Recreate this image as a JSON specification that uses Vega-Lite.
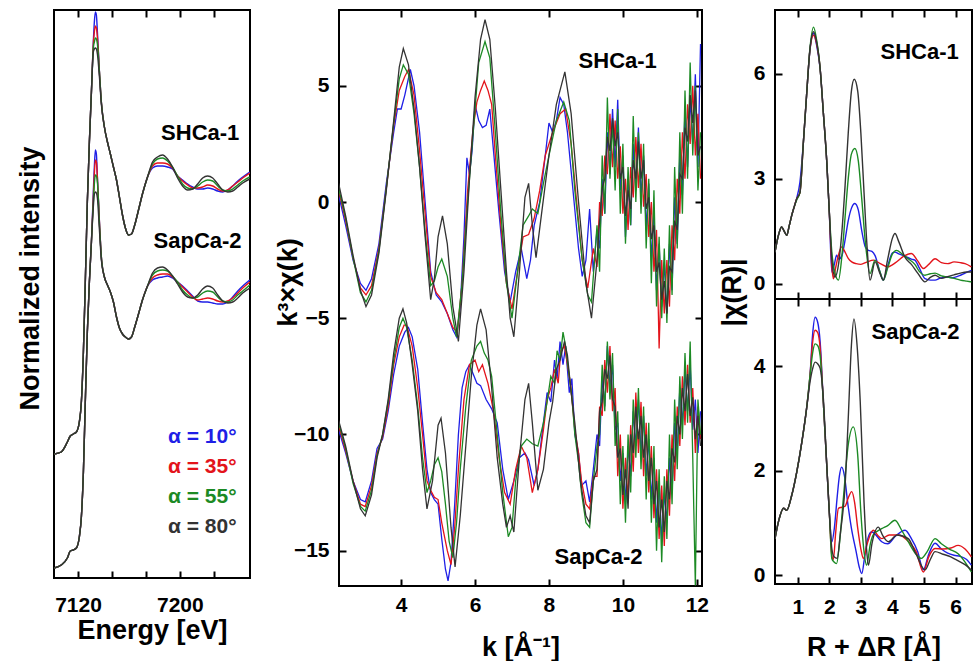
{
"$schema": "https://vega.github.io/schema/vega-lite/v6.json",
"background": "white",
"padding": {"left": 15, "top": 8, "right": 0, "bottom": 0},
"bounds": "flush",
"spacing": 36,
"config": {
  "font": "Liberation Sans",
  "view": {"stroke": "black", "strokeWidth": 2},
  "axis": {"domain": false, "grid": false, "ticks": true, "tickSize": -7, "tickWidth": 2, "tickColor": "black", "labelFont": "Liberation Sans", "labelFontWeight": "bold", "labelFontSize": 21, "labelColor": "black", "labelFlush": false, "labelOverlap": false, "titleFont": "Liberation Sans", "titleFontWeight": "bold", "titleFontSize": 27, "titleColor": "black"},
  "axisBottom": {"labelPadding": 19},
  "axisLeft": {"labelPadding": 17}
},
"datasets": {
"xanes": [
{"s":"SH","a":10,"x":7101.3,"y":1.24},{"s":"SH","a":10,"x":7106.8,"y":1.26},{"s":"SH","a":10,"x":7111.6,"y":1.36},{"s":"SH","a":10,"x":7113.9,"y":1.42},{"s":"SH","a":10,"x":7116.3,"y":1.44},{"s":"SH","a":10,"x":7118.7,"y":1.46},{"s":"SH","a":10,"x":7121,"y":1.56},{"s":"SH","a":10,"x":7122.6,"y":1.76},{"s":"SH","a":10,"x":7124.2,"y":2.26},{"s":"SH","a":10,"x":7125.7,"y":2.96},{"s":"SH","a":10,"x":7127.3,"y":3.76},{"s":"SH","a":10,"x":7128.9,"y":4.36},{"s":"SH","a":10,"x":7130.5,"y":4.86},{"s":"SH","a":10,"x":7132,"y":5.36},{"s":"SH","a":10,"x":7132.8,"y":5.56},{"s":"SH","a":10,"x":7133.6,"y":5.66},{"s":"SH","a":10,"x":7134.4,"y":5.63},{"s":"SH","a":10,"x":7135.2,"y":5.46},{"s":"SH","a":10,"x":7136.8,"y":5.06},{"s":"SH","a":10,"x":7138.3,"y":4.76},{"s":"SH","a":10,"x":7140.7,"y":4.51},{"s":"SH","a":10,"x":7143.1,"y":4.36},{"s":"SH","a":10,"x":7145.4,"y":4.24},{"s":"SH","a":10,"x":7147.8,"y":4.11},{"s":"SH","a":10,"x":7150.2,"y":3.98},{"s":"SH","a":10,"x":7152.5,"y":3.81},{"s":"SH","a":10,"x":7154.9,"y":3.63},{"s":"SH","a":10,"x":7157.2,"y":3.5},{"s":"SH","a":10,"x":7159.6,"y":3.43},{"s":"SH","a":10,"x":7162,"y":3.44},{"s":"SH","a":10,"x":7164.3,"y":3.52},{"s":"SH","a":10,"x":7167.5,"y":3.68},{"s":"SH","a":10,"x":7170.6,"y":3.84},{"s":"SH","a":10,"x":7174.6,"y":4.01},{"s":"SH","a":10,"x":7178.5,"y":4.1},{"s":"SH","a":10,"x":7182.4,"y":4.12},{"s":"SH","a":10,"x":7186.4,"y":4.12},{"s":"SH","a":10,"x":7190.3,"y":4.11},{"s":"SH","a":10,"x":7194.2,"y":4.09},{"s":"SH","a":10,"x":7198.2,"y":4.02},{"s":"SH","a":10,"x":7202.1,"y":3.98},{"s":"SH","a":10,"x":7206.1,"y":3.94},{"s":"SH","a":10,"x":7210,"y":3.91},{"s":"SH","a":10,"x":7214,"y":3.89},{"s":"SH","a":10,"x":7217.9,"y":3.89},{"s":"SH","a":10,"x":7221.8,"y":3.9},{"s":"SH","a":10,"x":7225.8,"y":3.89},{"s":"SH","a":10,"x":7229.7,"y":3.87},{"s":"SH","a":10,"x":7233.7,"y":3.86},{"s":"SH","a":10,"x":7237.6,"y":3.88},{"s":"SH","a":10,"x":7241.5,"y":3.92},{"s":"SH","a":10,"x":7245.5,"y":3.97},{"s":"SH","a":10,"x":7249.4,"y":4.01},{"s":"SH","a":10,"x":7254.9,"y":4.06},
{"s":"Sap","a":10,"x":7101.3,"y":0.1},{"s":"Sap","a":10,"x":7106.8,"y":0.13},{"s":"Sap","a":10,"x":7111.6,"y":0.2},{"s":"Sap","a":10,"x":7113.9,"y":0.27},{"s":"Sap","a":10,"x":7116.3,"y":0.28},{"s":"Sap","a":10,"x":7118.7,"y":0.3},{"s":"Sap","a":10,"x":7121,"y":0.41},{"s":"Sap","a":10,"x":7122.6,"y":0.61},{"s":"Sap","a":10,"x":7124.2,"y":1.06},{"s":"Sap","a":10,"x":7125.7,"y":1.76},{"s":"Sap","a":10,"x":7127.3,"y":2.46},{"s":"Sap","a":10,"x":7128.9,"y":2.96},{"s":"Sap","a":10,"x":7130.5,"y":3.36},{"s":"Sap","a":10,"x":7132,"y":3.86},{"s":"Sap","a":10,"x":7132.8,"y":4.11},{"s":"Sap","a":10,"x":7133.6,"y":4.28},{"s":"Sap","a":10,"x":7134.4,"y":4.24},{"s":"Sap","a":10,"x":7135.2,"y":4.01},{"s":"Sap","a":10,"x":7136.8,"y":3.56},{"s":"Sap","a":10,"x":7138.3,"y":3.21},{"s":"Sap","a":10,"x":7140.7,"y":3.01},{"s":"Sap","a":10,"x":7143.1,"y":2.93},{"s":"Sap","a":10,"x":7145.4,"y":2.86},{"s":"Sap","a":10,"x":7147.8,"y":2.76},{"s":"Sap","a":10,"x":7150.2,"y":2.61},{"s":"Sap","a":10,"x":7152.5,"y":2.5},{"s":"Sap","a":10,"x":7154.9,"y":2.44},{"s":"Sap","a":10,"x":7157.2,"y":2.41},{"s":"Sap","a":10,"x":7159.6,"y":2.39},{"s":"Sap","a":10,"x":7162,"y":2.41},{"s":"Sap","a":10,"x":7164.3,"y":2.5},{"s":"Sap","a":10,"x":7167.5,"y":2.64},{"s":"Sap","a":10,"x":7170.6,"y":2.78},{"s":"Sap","a":10,"x":7174.6,"y":2.92},{"s":"Sap","a":10,"x":7178.5,"y":2.98},{"s":"Sap","a":10,"x":7182.4,"y":3.0},{"s":"Sap","a":10,"x":7186.4,"y":3.01},{"s":"Sap","a":10,"x":7190.3,"y":3.02},{"s":"Sap","a":10,"x":7194.2,"y":3.0},{"s":"Sap","a":10,"x":7198.2,"y":2.96},{"s":"Sap","a":10,"x":7202.1,"y":2.92},{"s":"Sap","a":10,"x":7206.1,"y":2.87},{"s":"Sap","a":10,"x":7210,"y":2.82},{"s":"Sap","a":10,"x":7214,"y":2.77},{"s":"Sap","a":10,"x":7217.9,"y":2.76},{"s":"Sap","a":10,"x":7221.8,"y":2.76},{"s":"Sap","a":10,"x":7225.8,"y":2.75},{"s":"Sap","a":10,"x":7229.7,"y":2.74},{"s":"Sap","a":10,"x":7233.7,"y":2.74},{"s":"Sap","a":10,"x":7237.6,"y":2.76},{"s":"Sap","a":10,"x":7241.5,"y":2.81},{"s":"Sap","a":10,"x":7245.5,"y":2.87},{"s":"Sap","a":10,"x":7249.4,"y":2.92},{"s":"Sap","a":10,"x":7254.9,"y":2.98},
{"s":"SH","a":35,"x":7101.3,"y":1.24},{"s":"SH","a":35,"x":7106.8,"y":1.26},{"s":"SH","a":35,"x":7111.6,"y":1.36},{"s":"SH","a":35,"x":7113.9,"y":1.42},{"s":"SH","a":35,"x":7116.3,"y":1.44},{"s":"SH","a":35,"x":7118.7,"y":1.46},{"s":"SH","a":35,"x":7121,"y":1.56},{"s":"SH","a":35,"x":7122.6,"y":1.76},{"s":"SH","a":35,"x":7124.2,"y":2.26},{"s":"SH","a":35,"x":7125.7,"y":2.96},{"s":"SH","a":35,"x":7127.3,"y":3.76},{"s":"SH","a":35,"x":7128.9,"y":4.36},{"s":"SH","a":35,"x":7130.5,"y":4.86},{"s":"SH","a":35,"x":7132,"y":5.34},{"s":"SH","a":35,"x":7132.8,"y":5.46},{"s":"SH","a":35,"x":7133.6,"y":5.52},{"s":"SH","a":35,"x":7134.4,"y":5.5},{"s":"SH","a":35,"x":7135.2,"y":5.41},{"s":"SH","a":35,"x":7136.8,"y":5.06},{"s":"SH","a":35,"x":7138.3,"y":4.76},{"s":"SH","a":35,"x":7140.7,"y":4.51},{"s":"SH","a":35,"x":7143.1,"y":4.36},{"s":"SH","a":35,"x":7145.4,"y":4.24},{"s":"SH","a":35,"x":7147.8,"y":4.11},{"s":"SH","a":35,"x":7150.2,"y":3.98},{"s":"SH","a":35,"x":7152.5,"y":3.81},{"s":"SH","a":35,"x":7154.9,"y":3.63},{"s":"SH","a":35,"x":7157.2,"y":3.5},{"s":"SH","a":35,"x":7159.6,"y":3.43},{"s":"SH","a":35,"x":7162,"y":3.44},{"s":"SH","a":35,"x":7164.3,"y":3.52},{"s":"SH","a":35,"x":7167.5,"y":3.68},{"s":"SH","a":35,"x":7170.6,"y":3.84},{"s":"SH","a":35,"x":7174.6,"y":4.01},{"s":"SH","a":35,"x":7178.5,"y":4.12},{"s":"SH","a":35,"x":7182.4,"y":4.15},{"s":"SH","a":35,"x":7186.4,"y":4.15},{"s":"SH","a":35,"x":7190.3,"y":4.14},{"s":"SH","a":35,"x":7194.2,"y":4.1},{"s":"SH","a":35,"x":7198.2,"y":4.02},{"s":"SH","a":35,"x":7202.1,"y":3.97},{"s":"SH","a":35,"x":7206.1,"y":3.93},{"s":"SH","a":35,"x":7210,"y":3.9},{"s":"SH","a":35,"x":7214,"y":3.9},{"s":"SH","a":35,"x":7217.9,"y":3.91},{"s":"SH","a":35,"x":7221.8,"y":3.93},{"s":"SH","a":35,"x":7225.8,"y":3.92},{"s":"SH","a":35,"x":7229.7,"y":3.89},{"s":"SH","a":35,"x":7233.7,"y":3.87},{"s":"SH","a":35,"x":7237.6,"y":3.88},{"s":"SH","a":35,"x":7241.5,"y":3.92},{"s":"SH","a":35,"x":7245.5,"y":3.96},{"s":"SH","a":35,"x":7249.4,"y":4.0},{"s":"SH","a":35,"x":7254.9,"y":4.05},
{"s":"Sap","a":35,"x":7101.3,"y":0.1},{"s":"Sap","a":35,"x":7106.8,"y":0.13},{"s":"Sap","a":35,"x":7111.6,"y":0.2},{"s":"Sap","a":35,"x":7113.9,"y":0.27},{"s":"Sap","a":35,"x":7116.3,"y":0.28},{"s":"Sap","a":35,"x":7118.7,"y":0.3},{"s":"Sap","a":35,"x":7121,"y":0.41},{"s":"Sap","a":35,"x":7122.6,"y":0.61},{"s":"Sap","a":35,"x":7124.2,"y":1.06},{"s":"Sap","a":35,"x":7125.7,"y":1.76},{"s":"Sap","a":35,"x":7127.3,"y":2.46},{"s":"Sap","a":35,"x":7128.9,"y":2.96},{"s":"Sap","a":35,"x":7130.5,"y":3.36},{"s":"Sap","a":35,"x":7132,"y":3.81},{"s":"Sap","a":35,"x":7132.8,"y":4.04},{"s":"Sap","a":35,"x":7133.6,"y":4.18},{"s":"Sap","a":35,"x":7134.4,"y":4.16},{"s":"Sap","a":35,"x":7135.2,"y":4.0},{"s":"Sap","a":35,"x":7136.8,"y":3.56},{"s":"Sap","a":35,"x":7138.3,"y":3.21},{"s":"Sap","a":35,"x":7140.7,"y":3.01},{"s":"Sap","a":35,"x":7143.1,"y":2.93},{"s":"Sap","a":35,"x":7145.4,"y":2.86},{"s":"Sap","a":35,"x":7147.8,"y":2.76},{"s":"Sap","a":35,"x":7150.2,"y":2.61},{"s":"Sap","a":35,"x":7152.5,"y":2.5},{"s":"Sap","a":35,"x":7154.9,"y":2.44},{"s":"Sap","a":35,"x":7157.2,"y":2.41},{"s":"Sap","a":35,"x":7159.6,"y":2.39},{"s":"Sap","a":35,"x":7162,"y":2.41},{"s":"Sap","a":35,"x":7164.3,"y":2.5},{"s":"Sap","a":35,"x":7167.5,"y":2.64},{"s":"Sap","a":35,"x":7170.6,"y":2.78},{"s":"Sap","a":35,"x":7174.6,"y":2.92},{"s":"Sap","a":35,"x":7178.5,"y":3.0},{"s":"Sap","a":35,"x":7182.4,"y":3.03},{"s":"Sap","a":35,"x":7186.4,"y":3.04},{"s":"Sap","a":35,"x":7190.3,"y":3.04},{"s":"Sap","a":35,"x":7194.2,"y":3.01},{"s":"Sap","a":35,"x":7198.2,"y":2.96},{"s":"Sap","a":35,"x":7202.1,"y":2.91},{"s":"Sap","a":35,"x":7206.1,"y":2.86},{"s":"Sap","a":35,"x":7210,"y":2.81},{"s":"Sap","a":35,"x":7214,"y":2.78},{"s":"Sap","a":35,"x":7217.9,"y":2.79},{"s":"Sap","a":35,"x":7221.8,"y":2.8},{"s":"Sap","a":35,"x":7225.8,"y":2.79},{"s":"Sap","a":35,"x":7229.7,"y":2.77},{"s":"Sap","a":35,"x":7233.7,"y":2.76},{"s":"Sap","a":35,"x":7237.6,"y":2.77},{"s":"Sap","a":35,"x":7241.5,"y":2.8},{"s":"Sap","a":35,"x":7245.5,"y":2.85},{"s":"Sap","a":35,"x":7249.4,"y":2.9},{"s":"Sap","a":35,"x":7254.9,"y":2.96},
{"s":"SH","a":55,"x":7101.3,"y":1.24},{"s":"SH","a":55,"x":7106.8,"y":1.26},{"s":"SH","a":55,"x":7111.6,"y":1.36},{"s":"SH","a":55,"x":7113.9,"y":1.42},{"s":"SH","a":55,"x":7116.3,"y":1.44},{"s":"SH","a":55,"x":7118.7,"y":1.46},{"s":"SH","a":55,"x":7121,"y":1.56},{"s":"SH","a":55,"x":7122.6,"y":1.76},{"s":"SH","a":55,"x":7124.2,"y":2.26},{"s":"SH","a":55,"x":7125.7,"y":2.96},{"s":"SH","a":55,"x":7127.3,"y":3.76},{"s":"SH","a":55,"x":7128.9,"y":4.36},{"s":"SH","a":55,"x":7130.5,"y":4.86},{"s":"SH","a":55,"x":7132,"y":5.3},{"s":"SH","a":55,"x":7132.8,"y":5.36},{"s":"SH","a":55,"x":7133.6,"y":5.4},{"s":"SH","a":55,"x":7134.4,"y":5.39},{"s":"SH","a":55,"x":7135.2,"y":5.34},{"s":"SH","a":55,"x":7136.8,"y":5.06},{"s":"SH","a":55,"x":7138.3,"y":4.76},{"s":"SH","a":55,"x":7140.7,"y":4.51},{"s":"SH","a":55,"x":7143.1,"y":4.36},{"s":"SH","a":55,"x":7145.4,"y":4.24},{"s":"SH","a":55,"x":7147.8,"y":4.11},{"s":"SH","a":55,"x":7150.2,"y":3.98},{"s":"SH","a":55,"x":7152.5,"y":3.81},{"s":"SH","a":55,"x":7154.9,"y":3.63},{"s":"SH","a":55,"x":7157.2,"y":3.5},{"s":"SH","a":55,"x":7159.6,"y":3.43},{"s":"SH","a":55,"x":7162,"y":3.44},{"s":"SH","a":55,"x":7164.3,"y":3.52},{"s":"SH","a":55,"x":7167.5,"y":3.68},{"s":"SH","a":55,"x":7170.6,"y":3.84},{"s":"SH","a":55,"x":7174.6,"y":4.01},{"s":"SH","a":55,"x":7178.5,"y":4.14},{"s":"SH","a":55,"x":7182.4,"y":4.19},{"s":"SH","a":55,"x":7186.4,"y":4.2},{"s":"SH","a":55,"x":7190.3,"y":4.17},{"s":"SH","a":55,"x":7194.2,"y":4.11},{"s":"SH","a":55,"x":7198.2,"y":4.02},{"s":"SH","a":55,"x":7202.1,"y":3.94},{"s":"SH","a":55,"x":7206.1,"y":3.9},{"s":"SH","a":55,"x":7210,"y":3.89},{"s":"SH","a":55,"x":7214,"y":3.92},{"s":"SH","a":55,"x":7217.9,"y":3.96},{"s":"SH","a":55,"x":7221.8,"y":3.98},{"s":"SH","a":55,"x":7225.8,"y":3.97},{"s":"SH","a":55,"x":7229.7,"y":3.92},{"s":"SH","a":55,"x":7233.7,"y":3.88},{"s":"SH","a":55,"x":7237.6,"y":3.87},{"s":"SH","a":55,"x":7241.5,"y":3.89},{"s":"SH","a":55,"x":7245.5,"y":3.93},{"s":"SH","a":55,"x":7249.4,"y":3.97},{"s":"SH","a":55,"x":7254.9,"y":4.01},
{"s":"Sap","a":55,"x":7101.3,"y":0.1},{"s":"Sap","a":55,"x":7106.8,"y":0.13},{"s":"Sap","a":55,"x":7111.6,"y":0.2},{"s":"Sap","a":55,"x":7113.9,"y":0.27},{"s":"Sap","a":55,"x":7116.3,"y":0.28},{"s":"Sap","a":55,"x":7118.7,"y":0.3},{"s":"Sap","a":55,"x":7121,"y":0.41},{"s":"Sap","a":55,"x":7122.6,"y":0.61},{"s":"Sap","a":55,"x":7124.2,"y":1.06},{"s":"Sap","a":55,"x":7125.7,"y":1.76},{"s":"Sap","a":55,"x":7127.3,"y":2.46},{"s":"Sap","a":55,"x":7128.9,"y":2.96},{"s":"Sap","a":55,"x":7130.5,"y":3.36},{"s":"Sap","a":55,"x":7132,"y":3.76},{"s":"Sap","a":55,"x":7132.8,"y":3.94},{"s":"Sap","a":55,"x":7133.6,"y":4.03},{"s":"Sap","a":55,"x":7134.4,"y":4.02},{"s":"Sap","a":55,"x":7135.2,"y":3.96},{"s":"Sap","a":55,"x":7136.8,"y":3.54},{"s":"Sap","a":55,"x":7138.3,"y":3.21},{"s":"Sap","a":55,"x":7140.7,"y":3.01},{"s":"Sap","a":55,"x":7143.1,"y":2.93},{"s":"Sap","a":55,"x":7145.4,"y":2.86},{"s":"Sap","a":55,"x":7147.8,"y":2.76},{"s":"Sap","a":55,"x":7150.2,"y":2.61},{"s":"Sap","a":55,"x":7152.5,"y":2.5},{"s":"Sap","a":55,"x":7154.9,"y":2.44},{"s":"Sap","a":55,"x":7157.2,"y":2.41},{"s":"Sap","a":55,"x":7159.6,"y":2.39},{"s":"Sap","a":55,"x":7162,"y":2.41},{"s":"Sap","a":55,"x":7164.3,"y":2.5},{"s":"Sap","a":55,"x":7167.5,"y":2.64},{"s":"Sap","a":55,"x":7170.6,"y":2.78},{"s":"Sap","a":55,"x":7174.6,"y":2.92},{"s":"Sap","a":55,"x":7178.5,"y":3.03},{"s":"Sap","a":55,"x":7182.4,"y":3.07},{"s":"Sap","a":55,"x":7186.4,"y":3.08},{"s":"Sap","a":55,"x":7190.3,"y":3.07},{"s":"Sap","a":55,"x":7194.2,"y":3.02},{"s":"Sap","a":55,"x":7198.2,"y":2.96},{"s":"Sap","a":55,"x":7202.1,"y":2.88},{"s":"Sap","a":55,"x":7206.1,"y":2.83},{"s":"Sap","a":55,"x":7210,"y":2.8},{"s":"Sap","a":55,"x":7214,"y":2.81},{"s":"Sap","a":55,"x":7217.9,"y":2.85},{"s":"Sap","a":55,"x":7221.8,"y":2.87},{"s":"Sap","a":55,"x":7225.8,"y":2.86},{"s":"Sap","a":55,"x":7229.7,"y":2.81},{"s":"Sap","a":55,"x":7233.7,"y":2.77},{"s":"Sap","a":55,"x":7237.6,"y":2.76},{"s":"Sap","a":55,"x":7241.5,"y":2.78},{"s":"Sap","a":55,"x":7245.5,"y":2.83},{"s":"Sap","a":55,"x":7249.4,"y":2.87},{"s":"Sap","a":55,"x":7254.9,"y":2.93},
{"s":"SH","a":80,"x":7101.3,"y":1.24},{"s":"SH","a":80,"x":7106.8,"y":1.26},{"s":"SH","a":80,"x":7111.6,"y":1.36},{"s":"SH","a":80,"x":7113.9,"y":1.42},{"s":"SH","a":80,"x":7116.3,"y":1.44},{"s":"SH","a":80,"x":7118.7,"y":1.46},{"s":"SH","a":80,"x":7121,"y":1.56},{"s":"SH","a":80,"x":7122.6,"y":1.76},{"s":"SH","a":80,"x":7124.2,"y":2.26},{"s":"SH","a":80,"x":7125.7,"y":2.96},{"s":"SH","a":80,"x":7127.3,"y":3.76},{"s":"SH","a":80,"x":7128.9,"y":4.36},{"s":"SH","a":80,"x":7130.5,"y":4.86},{"s":"SH","a":80,"x":7132,"y":5.26},{"s":"SH","a":80,"x":7132.8,"y":5.29},{"s":"SH","a":80,"x":7133.6,"y":5.3},{"s":"SH","a":80,"x":7134.4,"y":5.29},{"s":"SH","a":80,"x":7135.2,"y":5.24},{"s":"SH","a":80,"x":7136.8,"y":5.01},{"s":"SH","a":80,"x":7138.3,"y":4.74},{"s":"SH","a":80,"x":7140.7,"y":4.51},{"s":"SH","a":80,"x":7143.1,"y":4.36},{"s":"SH","a":80,"x":7145.4,"y":4.24},{"s":"SH","a":80,"x":7147.8,"y":4.11},{"s":"SH","a":80,"x":7150.2,"y":3.98},{"s":"SH","a":80,"x":7152.5,"y":3.81},{"s":"SH","a":80,"x":7154.9,"y":3.63},{"s":"SH","a":80,"x":7157.2,"y":3.5},{"s":"SH","a":80,"x":7159.6,"y":3.43},{"s":"SH","a":80,"x":7162,"y":3.44},{"s":"SH","a":80,"x":7164.3,"y":3.52},{"s":"SH","a":80,"x":7167.5,"y":3.68},{"s":"SH","a":80,"x":7170.6,"y":3.84},{"s":"SH","a":80,"x":7174.6,"y":4.01},{"s":"SH","a":80,"x":7178.5,"y":4.16},{"s":"SH","a":80,"x":7182.4,"y":4.21},{"s":"SH","a":80,"x":7186.4,"y":4.23},{"s":"SH","a":80,"x":7190.3,"y":4.19},{"s":"SH","a":80,"x":7194.2,"y":4.11},{"s":"SH","a":80,"x":7198.2,"y":4.0},{"s":"SH","a":80,"x":7202.1,"y":3.92},{"s":"SH","a":80,"x":7206.1,"y":3.88},{"s":"SH","a":80,"x":7210,"y":3.89},{"s":"SH","a":80,"x":7214,"y":3.94},{"s":"SH","a":80,"x":7217.9,"y":4.0},{"s":"SH","a":80,"x":7221.8,"y":4.02},{"s":"SH","a":80,"x":7225.8,"y":4.0},{"s":"SH","a":80,"x":7229.7,"y":3.94},{"s":"SH","a":80,"x":7233.7,"y":3.88},{"s":"SH","a":80,"x":7237.6,"y":3.86},{"s":"SH","a":80,"x":7241.5,"y":3.87},{"s":"SH","a":80,"x":7245.5,"y":3.91},{"s":"SH","a":80,"x":7249.4,"y":3.95},{"s":"SH","a":80,"x":7254.9,"y":3.99},
{"s":"Sap","a":80,"x":7101.3,"y":0.1},{"s":"Sap","a":80,"x":7106.8,"y":0.13},{"s":"Sap","a":80,"x":7111.6,"y":0.2},{"s":"Sap","a":80,"x":7113.9,"y":0.27},{"s":"Sap","a":80,"x":7116.3,"y":0.28},{"s":"Sap","a":80,"x":7118.7,"y":0.3},{"s":"Sap","a":80,"x":7121,"y":0.41},{"s":"Sap","a":80,"x":7122.6,"y":0.61},{"s":"Sap","a":80,"x":7124.2,"y":1.06},{"s":"Sap","a":80,"x":7125.7,"y":1.76},{"s":"Sap","a":80,"x":7127.3,"y":2.46},{"s":"Sap","a":80,"x":7128.9,"y":2.96},{"s":"Sap","a":80,"x":7130.5,"y":3.36},{"s":"Sap","a":80,"x":7132,"y":3.71},{"s":"Sap","a":80,"x":7132.8,"y":3.84},{"s":"Sap","a":80,"x":7133.6,"y":3.86},{"s":"Sap","a":80,"x":7134.4,"y":3.85},{"s":"Sap","a":80,"x":7135.2,"y":3.8},{"s":"Sap","a":80,"x":7136.8,"y":3.48},{"s":"Sap","a":80,"x":7138.3,"y":3.18},{"s":"Sap","a":80,"x":7140.7,"y":3.01},{"s":"Sap","a":80,"x":7143.1,"y":2.93},{"s":"Sap","a":80,"x":7145.4,"y":2.86},{"s":"Sap","a":80,"x":7147.8,"y":2.76},{"s":"Sap","a":80,"x":7150.2,"y":2.61},{"s":"Sap","a":80,"x":7152.5,"y":2.5},{"s":"Sap","a":80,"x":7154.9,"y":2.44},{"s":"Sap","a":80,"x":7157.2,"y":2.41},{"s":"Sap","a":80,"x":7159.6,"y":2.39},{"s":"Sap","a":80,"x":7162,"y":2.41},{"s":"Sap","a":80,"x":7164.3,"y":2.5},{"s":"Sap","a":80,"x":7167.5,"y":2.64},{"s":"Sap","a":80,"x":7170.6,"y":2.78},{"s":"Sap","a":80,"x":7174.6,"y":2.92},{"s":"Sap","a":80,"x":7178.5,"y":3.05},{"s":"Sap","a":80,"x":7182.4,"y":3.1},{"s":"Sap","a":80,"x":7186.4,"y":3.11},{"s":"Sap","a":80,"x":7190.3,"y":3.08},{"s":"Sap","a":80,"x":7194.2,"y":3.02},{"s":"Sap","a":80,"x":7198.2,"y":2.94},{"s":"Sap","a":80,"x":7202.1,"y":2.86},{"s":"Sap","a":80,"x":7206.1,"y":2.81},{"s":"Sap","a":80,"x":7210,"y":2.8},{"s":"Sap","a":80,"x":7214,"y":2.83},{"s":"Sap","a":80,"x":7217.9,"y":2.89},{"s":"Sap","a":80,"x":7221.8,"y":2.92},{"s":"Sap","a":80,"x":7225.8,"y":2.9},{"s":"Sap","a":80,"x":7229.7,"y":2.83},{"s":"Sap","a":80,"x":7233.7,"y":2.77},{"s":"Sap","a":80,"x":7237.6,"y":2.75},{"s":"Sap","a":80,"x":7241.5,"y":2.76},{"s":"Sap","a":80,"x":7245.5,"y":2.8},{"s":"Sap","a":80,"x":7249.4,"y":2.85},{"s":"Sap","a":80,"x":7254.9,"y":2.9}
],
"exafs": [
{"s":"SH","a":10,"x":2.31,"y":0.3},{"s":"SH","a":10,"x":2.5,"y":-1.0},{"s":"SH","a":10,"x":2.7,"y":-2.5},{"s":"SH","a":10,"x":2.9,"y":-3.5},{"s":"SH","a":10,"x":3.05,"y":-3.8},{"s":"SH","a":10,"x":3.2,"y":-3.3},{"s":"SH","a":10,"x":3.4,"y":-1.8},{"s":"SH","a":10,"x":3.6,"y":0.8},{"s":"SH","a":10,"x":3.8,"y":3.0},{"s":"SH","a":10,"x":3.9,"y":4.0},{"s":"SH","a":10,"x":4.0,"y":4.0},{"s":"SH","a":10,"x":4.1,"y":4.6},{"s":"SH","a":10,"x":4.25,"y":5.7},{"s":"SH","a":10,"x":4.35,"y":5.0},{"s":"SH","a":10,"x":4.5,"y":3.0},{"s":"SH","a":10,"x":4.65,"y":0.0},{"s":"SH","a":10,"x":4.8,"y":-3.0},{"s":"SH","a":10,"x":4.95,"y":-4.0},{"s":"SH","a":10,"x":5.1,"y":-4.3},{"s":"SH","a":10,"x":5.25,"y":-4.8},{"s":"SH","a":10,"x":5.4,"y":-5.5},{"s":"SH","a":10,"x":5.5,"y":-5.8},{"s":"SH","a":10,"x":5.6,"y":-4.5},{"s":"SH","a":10,"x":5.7,"y":-1.5},{"s":"SH","a":10,"x":5.78,"y":1.9},{"s":"SH","a":10,"x":5.85,"y":1.2},{"s":"SH","a":10,"x":5.92,"y":2.2},{"s":"SH","a":10,"x":6.0,"y":4.2},{"s":"SH","a":10,"x":6.1,"y":3.5},{"s":"SH","a":10,"x":6.2,"y":3.2},{"s":"SH","a":10,"x":6.3,"y":3.3},{"s":"SH","a":10,"x":6.4,"y":4.0},{"s":"SH","a":10,"x":6.5,"y":2.2},{"s":"SH","a":10,"x":6.65,"y":-0.5},{"s":"SH","a":10,"x":6.8,"y":-3.0},{"s":"SH","a":10,"x":6.95,"y":-4.3},{"s":"SH","a":10,"x":7.1,"y":-3.0},{"s":"SH","a":10,"x":7.25,"y":-2.0},{"s":"SH","a":10,"x":7.4,"y":-3.3},{"s":"SH","a":10,"x":7.5,"y":-2.5},{"s":"SH","a":10,"x":7.6,"y":-1.0},{"s":"SH","a":10,"x":7.75,"y":0.0},{"s":"SH","a":10,"x":7.9,"y":2.0},{"s":"SH","a":10,"x":8.0,"y":3.4},{"s":"SH","a":10,"x":8.1,"y":3.0},{"s":"SH","a":10,"x":8.2,"y":3.5},{"s":"SH","a":10,"x":8.3,"y":4.5},{"s":"SH","a":10,"x":8.4,"y":4.2},{"s":"SH","a":10,"x":8.5,"y":3.0},{"s":"SH","a":10,"x":8.65,"y":0.5},{"s":"SH","a":10,"x":8.8,"y":-2.0},{"s":"SH","a":10,"x":8.9,"y":-3.2},{"s":"SH","a":10,"x":9.0,"y":-2.5},{"s":"SH","a":10,"x":9.1,"y":-0.3},{"s":"SH","a":10,"x":9.2,"y":-3.0},
{"s":"SH","a":10,"x":9.3,"y":-1.2},{"s":"SH","a":10,"x":9.37,"y":-2.0},{"s":"SH","a":10,"x":9.44,"y":1.0},{"s":"SH","a":10,"x":9.51,"y":-0.5},{"s":"SH","a":10,"x":9.58,"y":3.0},{"s":"SH","a":10,"x":9.65,"y":1.2},{"s":"SH","a":10,"x":9.72,"y":4.0},{"s":"SH","a":10,"x":9.79,"y":1.5},{"s":"SH","a":10,"x":9.86,"y":4.4},{"s":"SH","a":10,"x":9.93,"y":0.5},{"s":"SH","a":10,"x":10.0,"y":2.0},{"s":"SH","a":10,"x":10.07,"y":-1.5},{"s":"SH","a":10,"x":10.14,"y":1.0},{"s":"SH","a":10,"x":10.21,"y":-1.0},{"s":"SH","a":10,"x":10.28,"y":2.5},{"s":"SH","a":10,"x":10.35,"y":0.5},{"s":"SH","a":10,"x":10.42,"y":3.2},{"s":"SH","a":10,"x":10.49,"y":0.2},{"s":"SH","a":10,"x":10.56,"y":2.0},{"s":"SH","a":10,"x":10.63,"y":-1.2},{"s":"SH","a":10,"x":10.7,"y":0.8},{"s":"SH","a":10,"x":10.77,"y":-2.5},{"s":"SH","a":10,"x":10.84,"y":-0.5},{"s":"SH","a":10,"x":10.91,"y":-3.8},{"s":"SH","a":10,"x":10.98,"y":-1.8},{"s":"SH","a":10,"x":11.05,"y":-4.5},{"s":"SH","a":10,"x":11.12,"y":-2.6},{"s":"SH","a":10,"x":11.19,"y":-4.8},{"s":"SH","a":10,"x":11.26,"y":-1.8},{"s":"SH","a":10,"x":11.33,"y":-3.8},{"s":"SH","a":10,"x":11.4,"y":0.2},{"s":"SH","a":10,"x":11.47,"y":-1.8},{"s":"SH","a":10,"x":11.54,"y":2.0},{"s":"SH","a":10,"x":11.61,"y":0.3},{"s":"SH","a":10,"x":11.68,"y":4.0},{"s":"SH","a":10,"x":11.75,"y":1.5},{"s":"SH","a":10,"x":11.82,"y":4.5},{"s":"SH","a":10,"x":11.89,"y":2.5},{"s":"SH","a":10,"x":11.96,"y":5.5},{"s":"SH","a":10,"x":12.03,"y":1.5},{"s":"SH","a":10,"x":12.1,"y":6.8},
{"s":"Sap","a":10,"x":2.31,"y":-9.8},{"s":"Sap","a":10,"x":2.5,"y":-10.8},{"s":"Sap","a":10,"x":2.7,"y":-12.0},{"s":"Sap","a":10,"x":2.9,"y":-12.8},{"s":"Sap","a":10,"x":3.03,"y":-12.9},{"s":"Sap","a":10,"x":3.2,"y":-12.0},{"s":"Sap","a":10,"x":3.35,"y":-10.6},{"s":"Sap","a":10,"x":3.5,"y":-10.2},{"s":"Sap","a":10,"x":3.65,"y":-9.0},{"s":"Sap","a":10,"x":3.8,"y":-7.4},{"s":"Sap","a":10,"x":3.95,"y":-6.2},{"s":"Sap","a":10,"x":4.1,"y":-5.6},{"s":"Sap","a":10,"x":4.2,"y":-5.4},{"s":"Sap","a":10,"x":4.3,"y":-5.8},{"s":"Sap","a":10,"x":4.45,"y":-7.2},{"s":"Sap","a":10,"x":4.58,"y":-9.5},{"s":"Sap","a":10,"x":4.7,"y":-11.5},{"s":"Sap","a":10,"x":4.8,"y":-12.5},{"s":"Sap","a":10,"x":4.9,"y":-12.8},{"s":"Sap","a":10,"x":5.0,"y":-13.0},{"s":"Sap","a":10,"x":5.1,"y":-14.5},{"s":"Sap","a":10,"x":5.2,"y":-15.8},{"s":"Sap","a":10,"x":5.27,"y":-16.3},{"s":"Sap","a":10,"x":5.35,"y":-15.5},{"s":"Sap","a":10,"x":5.45,"y":-13.0},{"s":"Sap","a":10,"x":5.55,"y":-10.0},{"s":"Sap","a":10,"x":5.65,"y":-8.0},{"s":"Sap","a":10,"x":5.75,"y":-7.3},{"s":"Sap","a":10,"x":5.85,"y":-7.0},{"s":"Sap","a":10,"x":5.95,"y":-7.4},{"s":"Sap","a":10,"x":6.05,"y":-7.8},{"s":"Sap","a":10,"x":6.15,"y":-7.9},{"s":"Sap","a":10,"x":6.3,"y":-8.5},{"s":"Sap","a":10,"x":6.45,"y":-8.9},{"s":"Sap","a":10,"x":6.6,"y":-9.5},{"s":"Sap","a":10,"x":6.75,"y":-11.5},{"s":"Sap","a":10,"x":6.9,"y":-12.8},{"s":"Sap","a":10,"x":7.05,"y":-12.0},{"s":"Sap","a":10,"x":7.2,"y":-11.0},{"s":"Sap","a":10,"x":7.35,"y":-10.8},{"s":"Sap","a":10,"x":7.45,"y":-11.1},{"s":"Sap","a":10,"x":7.6,"y":-12.2},{"s":"Sap","a":10,"x":7.7,"y":-11.5},{"s":"Sap","a":10,"x":7.85,"y":-9.5},{"s":"Sap","a":10,"x":7.95,"y":-8.2},{"s":"Sap","a":10,"x":8.05,"y":-8.6},{"s":"Sap","a":10,"x":8.15,"y":-6.8},{"s":"Sap","a":10,"x":8.22,"y":-7.6},{"s":"Sap","a":10,"x":8.3,"y":-6.0},{"s":"Sap","a":10,"x":8.38,"y":-7.0},{"s":"Sap","a":10,"x":8.45,"y":-6.2},{"s":"Sap","a":10,"x":8.55,"y":-8.2},{"s":"Sap","a":10,"x":8.62,"y":-7.6},{"s":"Sap","a":10,"x":8.7,"y":-10.0},{"s":"Sap","a":10,"x":8.8,"y":-10.8},{"s":"Sap","a":10,"x":8.88,"y":-12.2},{"s":"Sap","a":10,"x":9.0,"y":-12.0},{"s":"Sap","a":10,"x":9.1,"y":-12.9},{"s":"Sap","a":10,"x":9.2,"y":-11.5},
{"s":"Sap","a":10,"x":9.3,"y":-10.0},{"s":"Sap","a":10,"x":9.37,"y":-10.5},{"s":"Sap","a":10,"x":9.44,"y":-7.5},{"s":"Sap","a":10,"x":9.51,"y":-8.8},{"s":"Sap","a":10,"x":9.58,"y":-6.2},{"s":"Sap","a":10,"x":9.65,"y":-8.0},{"s":"Sap","a":10,"x":9.72,"y":-7.0},{"s":"Sap","a":10,"x":9.79,"y":-9.8},{"s":"Sap","a":10,"x":9.86,"y":-9.5},{"s":"Sap","a":10,"x":9.93,"y":-12.0},{"s":"Sap","a":10,"x":10.0,"y":-10.8},{"s":"Sap","a":10,"x":10.07,"y":-13.0},{"s":"Sap","a":10,"x":10.14,"y":-10.5},{"s":"Sap","a":10,"x":10.21,"y":-11.8},{"s":"Sap","a":10,"x":10.28,"y":-9.0},{"s":"Sap","a":10,"x":10.35,"y":-10.5},{"s":"Sap","a":10,"x":10.42,"y":-8.5},{"s":"Sap","a":10,"x":10.49,"y":-10.8},{"s":"Sap","a":10,"x":10.56,"y":-9.2},{"s":"Sap","a":10,"x":10.63,"y":-11.8},{"s":"Sap","a":10,"x":10.7,"y":-10.2},{"s":"Sap","a":10,"x":10.77,"y":-12.8},{"s":"Sap","a":10,"x":10.84,"y":-11.0},{"s":"Sap","a":10,"x":10.91,"y":-13.8},{"s":"Sap","a":10,"x":10.98,"y":-12.0},{"s":"Sap","a":10,"x":11.05,"y":-14.6},{"s":"Sap","a":10,"x":11.12,"y":-12.5},{"s":"Sap","a":10,"x":11.19,"y":-13.8},{"s":"Sap","a":10,"x":11.26,"y":-11.0},{"s":"Sap","a":10,"x":11.33,"y":-12.5},{"s":"Sap","a":10,"x":11.4,"y":-9.5},{"s":"Sap","a":10,"x":11.47,"y":-10.8},{"s":"Sap","a":10,"x":11.54,"y":-8.0},{"s":"Sap","a":10,"x":11.61,"y":-9.6},{"s":"Sap","a":10,"x":11.68,"y":-7.2},{"s":"Sap","a":10,"x":11.75,"y":-9.0},{"s":"Sap","a":10,"x":11.82,"y":-7.0},{"s":"Sap","a":10,"x":11.89,"y":-9.8},{"s":"Sap","a":10,"x":11.96,"y":-8.5},{"s":"Sap","a":10,"x":12.03,"y":-10.8},{"s":"Sap","a":10,"x":12.1,"y":-9.0},
{"s":"SH","a":35,"x":2.31,"y":0.5},{"s":"SH","a":35,"x":2.5,"y":-0.8},{"s":"SH","a":35,"x":2.7,"y":-2.4},{"s":"SH","a":35,"x":2.9,"y":-3.7},{"s":"SH","a":35,"x":3.05,"y":-4.0},{"s":"SH","a":35,"x":3.2,"y":-3.6},{"s":"SH","a":35,"x":3.4,"y":-2.0},{"s":"SH","a":35,"x":3.6,"y":0.6},{"s":"SH","a":35,"x":3.8,"y":3.3},{"s":"SH","a":35,"x":3.95,"y":4.8},{"s":"SH","a":35,"x":4.1,"y":5.4},{"s":"SH","a":35,"x":4.2,"y":5.7},{"s":"SH","a":35,"x":4.35,"y":4.6},{"s":"SH","a":35,"x":4.5,"y":2.2},{"s":"SH","a":35,"x":4.65,"y":-0.5},{"s":"SH","a":35,"x":4.8,"y":-3.2},{"s":"SH","a":35,"x":4.95,"y":-3.9},{"s":"SH","a":35,"x":5.1,"y":-4.2},{"s":"SH","a":35,"x":5.25,"y":-4.8},{"s":"SH","a":35,"x":5.4,"y":-5.4},{"s":"SH","a":35,"x":5.52,"y":-5.6},{"s":"SH","a":35,"x":5.65,"y":-3.5},{"s":"SH","a":35,"x":5.8,"y":0.5},{"s":"SH","a":35,"x":5.95,"y":3.2},{"s":"SH","a":35,"x":6.05,"y":4.3},{"s":"SH","a":35,"x":6.15,"y":4.8},{"s":"SH","a":35,"x":6.25,"y":5.2},{"s":"SH","a":35,"x":6.35,"y":4.8},{"s":"SH","a":35,"x":6.45,"y":4.2},{"s":"SH","a":35,"x":6.55,"y":2.0},{"s":"SH","a":35,"x":6.7,"y":-1.0},{"s":"SH","a":35,"x":6.85,"y":-3.5},{"s":"SH","a":35,"x":7.0,"y":-4.6},{"s":"SH","a":35,"x":7.15,"y":-3.0},{"s":"SH","a":35,"x":7.3,"y":-1.5},{"s":"SH","a":35,"x":7.45,"y":-1.4},{"s":"SH","a":35,"x":7.6,"y":-0.7},{"s":"SH","a":35,"x":7.75,"y":0.5},{"s":"SH","a":35,"x":7.9,"y":2.0},{"s":"SH","a":35,"x":8.1,"y":3.0},{"s":"SH","a":35,"x":8.3,"y":3.8},{"s":"SH","a":35,"x":8.45,"y":4.0},{"s":"SH","a":35,"x":8.6,"y":2.5},{"s":"SH","a":35,"x":8.75,"y":0.0},{"s":"SH","a":35,"x":8.9,"y":-2.5},{"s":"SH","a":35,"x":9.05,"y":-3.7},{"s":"SH","a":35,"x":9.2,"y":-2.0},
{"s":"SH","a":35,"x":9.3,"y":-2.8},{"s":"SH","a":35,"x":9.37,"y":0.0},{"s":"SH","a":35,"x":9.44,"y":-0.6},{"s":"SH","a":35,"x":9.51,"y":2.0},{"s":"SH","a":35,"x":9.58,"y":1.2},{"s":"SH","a":35,"x":9.65,"y":3.8},{"s":"SH","a":35,"x":9.72,"y":1.5},{"s":"SH","a":35,"x":9.79,"y":3.5},{"s":"SH","a":35,"x":9.86,"y":1.0},{"s":"SH","a":35,"x":9.93,"y":2.4},{"s":"SH","a":35,"x":10.0,"y":-0.5},{"s":"SH","a":35,"x":10.07,"y":1.0},{"s":"SH","a":35,"x":10.14,"y":-1.2},{"s":"SH","a":35,"x":10.21,"y":1.5},{"s":"SH","a":35,"x":10.28,"y":0.2},{"s":"SH","a":35,"x":10.35,"y":2.8},{"s":"SH","a":35,"x":10.42,"y":0.6},{"s":"SH","a":35,"x":10.49,"y":2.5},{"s":"SH","a":35,"x":10.56,"y":-0.2},{"s":"SH","a":35,"x":10.63,"y":1.2},{"s":"SH","a":35,"x":10.7,"y":-1.5},{"s":"SH","a":35,"x":10.77,"y":0.0},{"s":"SH","a":35,"x":10.84,"y":-3.0},{"s":"SH","a":35,"x":10.91,"y":-1.2},{"s":"SH","a":35,"x":10.98,"y":-6.3},{"s":"SH","a":35,"x":11.05,"y":-2.5},{"s":"SH","a":35,"x":11.12,"y":-4.8},{"s":"SH","a":35,"x":11.19,"y":-2.5},{"s":"SH","a":35,"x":11.26,"y":-4.5},{"s":"SH","a":35,"x":11.33,"y":-1.0},{"s":"SH","a":35,"x":11.4,"y":-2.5},{"s":"SH","a":35,"x":11.47,"y":1.0},{"s":"SH","a":35,"x":11.54,"y":-0.5},{"s":"SH","a":35,"x":11.61,"y":3.0},{"s":"SH","a":35,"x":11.68,"y":1.0},{"s":"SH","a":35,"x":11.75,"y":4.2},{"s":"SH","a":35,"x":11.82,"y":2.5},{"s":"SH","a":35,"x":11.89,"y":5.0},{"s":"SH","a":35,"x":11.96,"y":2.0},{"s":"SH","a":35,"x":12.03,"y":3.8},{"s":"SH","a":35,"x":12.1,"y":1.0},
{"s":"Sap","a":35,"x":2.31,"y":-9.6},{"s":"Sap","a":35,"x":2.5,"y":-10.7},{"s":"Sap","a":35,"x":2.7,"y":-12.0},{"s":"Sap","a":35,"x":2.9,"y":-13.0},{"s":"Sap","a":35,"x":3.03,"y":-13.1},{"s":"Sap","a":35,"x":3.2,"y":-12.2},{"s":"Sap","a":35,"x":3.35,"y":-10.8},{"s":"Sap","a":35,"x":3.5,"y":-10.1},{"s":"Sap","a":35,"x":3.65,"y":-8.8},{"s":"Sap","a":35,"x":3.8,"y":-7.0},{"s":"Sap","a":35,"x":3.95,"y":-5.8},{"s":"Sap","a":35,"x":4.08,"y":-5.3},{"s":"Sap","a":35,"x":4.15,"y":-5.3},{"s":"Sap","a":35,"x":4.3,"y":-6.2},{"s":"Sap","a":35,"x":4.45,"y":-8.0},{"s":"Sap","a":35,"x":4.58,"y":-10.0},{"s":"Sap","a":35,"x":4.7,"y":-12.0},{"s":"Sap","a":35,"x":4.8,"y":-12.4},{"s":"Sap","a":35,"x":4.9,"y":-12.7},{"s":"Sap","a":35,"x":5.0,"y":-12.8},{"s":"Sap","a":35,"x":5.1,"y":-13.8},{"s":"Sap","a":35,"x":5.25,"y":-15.0},{"s":"Sap","a":35,"x":5.35,"y":-15.6},{"s":"Sap","a":35,"x":5.45,"y":-14.0},{"s":"Sap","a":35,"x":5.55,"y":-11.5},{"s":"Sap","a":35,"x":5.7,"y":-8.5},{"s":"Sap","a":35,"x":5.85,"y":-7.0},{"s":"Sap","a":35,"x":6.0,"y":-6.8},{"s":"Sap","a":35,"x":6.1,"y":-7.3},{"s":"Sap","a":35,"x":6.2,"y":-7.0},{"s":"Sap","a":35,"x":6.35,"y":-7.8},{"s":"Sap","a":35,"x":6.5,"y":-9.0},{"s":"Sap","a":35,"x":6.65,"y":-11.0},{"s":"Sap","a":35,"x":6.8,"y":-12.5},{"s":"Sap","a":35,"x":6.95,"y":-13.0},{"s":"Sap","a":35,"x":7.1,"y":-11.5},{"s":"Sap","a":35,"x":7.25,"y":-10.5},{"s":"Sap","a":35,"x":7.4,"y":-11.0},{"s":"Sap","a":35,"x":7.55,"y":-12.5},{"s":"Sap","a":35,"x":7.7,"y":-11.5},{"s":"Sap","a":35,"x":7.85,"y":-9.8},{"s":"Sap","a":35,"x":7.95,"y":-8.5},{"s":"Sap","a":35,"x":8.05,"y":-8.0},{"s":"Sap","a":35,"x":8.15,"y":-7.2},{"s":"Sap","a":35,"x":8.25,"y":-7.8},{"s":"Sap","a":35,"x":8.32,"y":-6.4},{"s":"Sap","a":35,"x":8.42,"y":-6.2},{"s":"Sap","a":35,"x":8.5,"y":-7.0},{"s":"Sap","a":35,"x":8.58,"y":-7.8},{"s":"Sap","a":35,"x":8.7,"y":-9.8},{"s":"Sap","a":35,"x":8.8,"y":-10.8},{"s":"Sap","a":35,"x":8.88,"y":-12.0},{"s":"Sap","a":35,"x":9.0,"y":-13.0},{"s":"Sap","a":35,"x":9.1,"y":-13.2},{"s":"Sap","a":35,"x":9.2,"y":-11.8},
{"s":"Sap","a":35,"x":9.3,"y":-11.8},{"s":"Sap","a":35,"x":9.37,"y":-8.8},{"s":"Sap","a":35,"x":9.44,"y":-9.2},{"s":"Sap","a":35,"x":9.51,"y":-6.8},{"s":"Sap","a":35,"x":9.58,"y":-8.2},{"s":"Sap","a":35,"x":9.65,"y":-6.2},{"s":"Sap","a":35,"x":9.72,"y":-9.0},{"s":"Sap","a":35,"x":9.79,"y":-8.0},{"s":"Sap","a":35,"x":9.86,"y":-11.8},{"s":"Sap","a":35,"x":9.93,"y":-10.0},{"s":"Sap","a":35,"x":10.0,"y":-13.2},{"s":"Sap","a":35,"x":10.07,"y":-11.0},{"s":"Sap","a":35,"x":10.14,"y":-12.8},{"s":"Sap","a":35,"x":10.21,"y":-9.6},{"s":"Sap","a":35,"x":10.28,"y":-11.6},{"s":"Sap","a":35,"x":10.35,"y":-8.2},{"s":"Sap","a":35,"x":10.42,"y":-10.8},{"s":"Sap","a":35,"x":10.49,"y":-8.6},{"s":"Sap","a":35,"x":10.56,"y":-11.8},{"s":"Sap","a":35,"x":10.63,"y":-9.5},{"s":"Sap","a":35,"x":10.7,"y":-12.5},{"s":"Sap","a":35,"x":10.77,"y":-10.5},{"s":"Sap","a":35,"x":10.84,"y":-13.6},{"s":"Sap","a":35,"x":10.91,"y":-11.5},{"s":"Sap","a":35,"x":10.98,"y":-14.5},{"s":"Sap","a":35,"x":11.05,"y":-12.2},{"s":"Sap","a":35,"x":11.12,"y":-14.8},{"s":"Sap","a":35,"x":11.19,"y":-11.5},{"s":"Sap","a":35,"x":11.26,"y":-13.5},{"s":"Sap","a":35,"x":11.33,"y":-10.0},{"s":"Sap","a":35,"x":11.4,"y":-12.0},{"s":"Sap","a":35,"x":11.47,"y":-8.8},{"s":"Sap","a":35,"x":11.54,"y":-10.5},{"s":"Sap","a":35,"x":11.61,"y":-7.5},{"s":"Sap","a":35,"x":11.68,"y":-9.6},{"s":"Sap","a":35,"x":11.75,"y":-7.0},{"s":"Sap","a":35,"x":11.82,"y":-9.5},{"s":"Sap","a":35,"x":11.89,"y":-8.0},{"s":"Sap","a":35,"x":11.96,"y":-10.8},{"s":"Sap","a":35,"x":12.03,"y":-8.8},{"s":"Sap","a":35,"x":12.1,"y":-10.2},
{"s":"SH","a":55,"x":2.31,"y":0.6},{"s":"SH","a":55,"x":2.5,"y":-0.7},{"s":"SH","a":55,"x":2.7,"y":-2.4},{"s":"SH","a":55,"x":2.9,"y":-3.9},{"s":"SH","a":55,"x":3.05,"y":-4.3},{"s":"SH","a":55,"x":3.2,"y":-3.8},{"s":"SH","a":55,"x":3.4,"y":-2.1},{"s":"SH","a":55,"x":3.6,"y":0.6},{"s":"SH","a":55,"x":3.8,"y":3.4},{"s":"SH","a":55,"x":3.95,"y":5.3},{"s":"SH","a":55,"x":4.06,"y":5.9},{"s":"SH","a":55,"x":4.2,"y":5.5},{"s":"SH","a":55,"x":4.35,"y":3.8},{"s":"SH","a":55,"x":4.5,"y":1.5},{"s":"SH","a":55,"x":4.65,"y":-1.3},{"s":"SH","a":55,"x":4.8,"y":-3.6},{"s":"SH","a":55,"x":4.9,"y":-3.4},{"s":"SH","a":55,"x":5.0,"y":-2.8},{"s":"SH","a":55,"x":5.1,"y":-2.45},{"s":"SH","a":55,"x":5.25,"y":-3.2},{"s":"SH","a":55,"x":5.4,"y":-5.0},{"s":"SH","a":55,"x":5.5,"y":-5.8},{"s":"SH","a":55,"x":5.65,"y":-3.5},{"s":"SH","a":55,"x":5.8,"y":0.0},{"s":"SH","a":55,"x":5.95,"y":3.0},{"s":"SH","a":55,"x":6.1,"y":6.0},{"s":"SH","a":55,"x":6.27,"y":6.9},{"s":"SH","a":55,"x":6.4,"y":6.2},{"s":"SH","a":55,"x":6.55,"y":3.0},{"s":"SH","a":55,"x":6.7,"y":-0.5},{"s":"SH","a":55,"x":6.85,"y":-3.5},{"s":"SH","a":55,"x":7.0,"y":-5.0},{"s":"SH","a":55,"x":7.15,"y":-3.0},{"s":"SH","a":55,"x":7.3,"y":-1.0},{"s":"SH","a":55,"x":7.45,"y":-0.6},{"s":"SH","a":55,"x":7.55,"y":-0.3},{"s":"SH","a":55,"x":7.7,"y":-0.5},{"s":"SH","a":55,"x":7.85,"y":0.8},{"s":"SH","a":55,"x":8.0,"y":2.0},{"s":"SH","a":55,"x":8.2,"y":3.5},{"s":"SH","a":55,"x":8.4,"y":4.3},{"s":"SH","a":55,"x":8.55,"y":3.5},{"s":"SH","a":55,"x":8.7,"y":0.5},{"s":"SH","a":55,"x":8.9,"y":-2.5},{"s":"SH","a":55,"x":9.05,"y":-4.0},{"s":"SH","a":55,"x":9.15,"y":-4.3},
{"s":"SH","a":55,"x":9.3,"y":-1.0},{"s":"SH","a":55,"x":9.37,"y":-3.0},{"s":"SH","a":55,"x":9.44,"y":2.0},{"s":"SH","a":55,"x":9.51,"y":-0.5},{"s":"SH","a":55,"x":9.58,"y":4.5},{"s":"SH","a":55,"x":9.65,"y":1.0},{"s":"SH","a":55,"x":9.72,"y":3.5},{"s":"SH","a":55,"x":9.79,"y":0.5},{"s":"SH","a":55,"x":9.86,"y":4.0},{"s":"SH","a":55,"x":9.93,"y":-0.5},{"s":"SH","a":55,"x":10.0,"y":2.5},{"s":"SH","a":55,"x":10.07,"y":-1.8},{"s":"SH","a":55,"x":10.14,"y":1.5},{"s":"SH","a":55,"x":10.21,"y":-1.0},{"s":"SH","a":55,"x":10.28,"y":3.7},{"s":"SH","a":55,"x":10.35,"y":0.0},{"s":"SH","a":55,"x":10.42,"y":3.0},{"s":"SH","a":55,"x":10.49,"y":-0.5},{"s":"SH","a":55,"x":10.56,"y":2.5},{"s":"SH","a":55,"x":10.63,"y":-2.0},{"s":"SH","a":55,"x":10.7,"y":1.0},{"s":"SH","a":55,"x":10.77,"y":-3.5},{"s":"SH","a":55,"x":10.84,"y":0.5},{"s":"SH","a":55,"x":10.91,"y":-4.5},{"s":"SH","a":55,"x":10.98,"y":-1.5},{"s":"SH","a":55,"x":11.05,"y":-5.0},{"s":"SH","a":55,"x":11.12,"y":-2.0},{"s":"SH","a":55,"x":11.19,"y":-5.2},{"s":"SH","a":55,"x":11.26,"y":-1.0},{"s":"SH","a":55,"x":11.33,"y":-4.0},{"s":"SH","a":55,"x":11.4,"y":1.5},{"s":"SH","a":55,"x":11.47,"y":-2.0},{"s":"SH","a":55,"x":11.54,"y":3.0},{"s":"SH","a":55,"x":11.61,"y":-0.5},{"s":"SH","a":55,"x":11.68,"y":4.8},{"s":"SH","a":55,"x":11.75,"y":1.0},{"s":"SH","a":55,"x":11.82,"y":6.0},{"s":"SH","a":55,"x":11.89,"y":2.0},{"s":"SH","a":55,"x":11.96,"y":5.0},{"s":"SH","a":55,"x":12.03,"y":0.5},{"s":"SH","a":55,"x":12.1,"y":3.0},
{"s":"Sap","a":55,"x":2.31,"y":-9.5},{"s":"Sap","a":55,"x":2.5,"y":-10.6},{"s":"Sap","a":55,"x":2.7,"y":-12.1},{"s":"Sap","a":55,"x":2.9,"y":-13.1},{"s":"Sap","a":55,"x":3.03,"y":-13.3},{"s":"Sap","a":55,"x":3.2,"y":-12.4},{"s":"Sap","a":55,"x":3.35,"y":-10.9},{"s":"Sap","a":55,"x":3.5,"y":-10.0},{"s":"Sap","a":55,"x":3.65,"y":-8.6},{"s":"Sap","a":55,"x":3.8,"y":-6.8},{"s":"Sap","a":55,"x":3.95,"y":-5.4},{"s":"Sap","a":55,"x":4.05,"y":-5.0},{"s":"Sap","a":55,"x":4.15,"y":-5.4},{"s":"Sap","a":55,"x":4.3,"y":-6.8},{"s":"Sap","a":55,"x":4.45,"y":-8.8},{"s":"Sap","a":55,"x":4.58,"y":-11.0},{"s":"Sap","a":55,"x":4.7,"y":-12.5},{"s":"Sap","a":55,"x":4.8,"y":-12.0},{"s":"Sap","a":55,"x":4.9,"y":-11.3},{"s":"Sap","a":55,"x":5.0,"y":-11.0},{"s":"Sap","a":55,"x":5.1,"y":-11.6},{"s":"Sap","a":55,"x":5.2,"y":-13.0},{"s":"Sap","a":55,"x":5.3,"y":-14.6},{"s":"Sap","a":55,"x":5.4,"y":-15.3},{"s":"Sap","a":55,"x":5.5,"y":-13.8},{"s":"Sap","a":55,"x":5.6,"y":-11.5},{"s":"Sap","a":55,"x":5.75,"y":-8.8},{"s":"Sap","a":55,"x":5.9,"y":-6.8},{"s":"Sap","a":55,"x":6.05,"y":-6.2},{"s":"Sap","a":55,"x":6.15,"y":-6.0},{"s":"Sap","a":55,"x":6.25,"y":-6.5},{"s":"Sap","a":55,"x":6.35,"y":-6.8},{"s":"Sap","a":55,"x":6.45,"y":-7.5},{"s":"Sap","a":55,"x":6.6,"y":-10.0},{"s":"Sap","a":55,"x":6.75,"y":-12.5},{"s":"Sap","a":55,"x":6.9,"y":-14.4},{"s":"Sap","a":55,"x":7.0,"y":-14.0},{"s":"Sap","a":55,"x":7.1,"y":-12.0},{"s":"Sap","a":55,"x":7.25,"y":-10.5},{"s":"Sap","a":55,"x":7.4,"y":-10.2},{"s":"Sap","a":55,"x":7.55,"y":-10.4},{"s":"Sap","a":55,"x":7.7,"y":-10.5},{"s":"Sap","a":55,"x":7.85,"y":-9.5},{"s":"Sap","a":55,"x":7.95,"y":-8.6},{"s":"Sap","a":55,"x":8.05,"y":-7.5},{"s":"Sap","a":55,"x":8.15,"y":-7.8},{"s":"Sap","a":55,"x":8.22,"y":-6.4},{"s":"Sap","a":55,"x":8.3,"y":-6.8},{"s":"Sap","a":55,"x":8.38,"y":-5.6},{"s":"Sap","a":55,"x":8.45,"y":-6.2},{"s":"Sap","a":55,"x":8.55,"y":-7.5},{"s":"Sap","a":55,"x":8.62,"y":-8.4},{"s":"Sap","a":55,"x":8.7,"y":-10.0},{"s":"Sap","a":55,"x":8.8,"y":-11.2},{"s":"Sap","a":55,"x":8.88,"y":-12.5},{"s":"Sap","a":55,"x":9.0,"y":-13.8},{"s":"Sap","a":55,"x":9.1,"y":-14.0},{"s":"Sap","a":55,"x":9.2,"y":-12.0},
{"s":"Sap","a":55,"x":9.3,"y":-10.5},{"s":"Sap","a":55,"x":9.37,"y":-10.0},{"s":"Sap","a":55,"x":9.44,"y":-7.0},{"s":"Sap","a":55,"x":9.51,"y":-9.0},{"s":"Sap","a":55,"x":9.58,"y":-6.0},{"s":"Sap","a":55,"x":9.65,"y":-8.5},{"s":"Sap","a":55,"x":9.72,"y":-6.5},{"s":"Sap","a":55,"x":9.79,"y":-10.5},{"s":"Sap","a":55,"x":9.86,"y":-9.0},{"s":"Sap","a":55,"x":9.93,"y":-13.0},{"s":"Sap","a":55,"x":10.0,"y":-10.5},{"s":"Sap","a":55,"x":10.07,"y":-13.8},{"s":"Sap","a":55,"x":10.14,"y":-10.0},{"s":"Sap","a":55,"x":10.21,"y":-12.5},{"s":"Sap","a":55,"x":10.28,"y":-8.5},{"s":"Sap","a":55,"x":10.35,"y":-11.0},{"s":"Sap","a":55,"x":10.42,"y":-8.0},{"s":"Sap","a":55,"x":10.49,"y":-11.5},{"s":"Sap","a":55,"x":10.56,"y":-8.8},{"s":"Sap","a":55,"x":10.63,"y":-12.8},{"s":"Sap","a":55,"x":10.7,"y":-9.5},{"s":"Sap","a":55,"x":10.77,"y":-13.8},{"s":"Sap","a":55,"x":10.84,"y":-10.5},{"s":"Sap","a":55,"x":10.91,"y":-15.0},{"s":"Sap","a":55,"x":10.98,"y":-11.5},{"s":"Sap","a":55,"x":11.05,"y":-15.5},{"s":"Sap","a":55,"x":11.12,"y":-11.8},{"s":"Sap","a":55,"x":11.19,"y":-14.5},{"s":"Sap","a":55,"x":11.26,"y":-10.0},{"s":"Sap","a":55,"x":11.33,"y":-13.0},{"s":"Sap","a":55,"x":11.4,"y":-8.5},{"s":"Sap","a":55,"x":11.47,"y":-11.5},{"s":"Sap","a":55,"x":11.54,"y":-7.5},{"s":"Sap","a":55,"x":11.61,"y":-10.2},{"s":"Sap","a":55,"x":11.68,"y":-6.5},{"s":"Sap","a":55,"x":11.75,"y":-9.5},{"s":"Sap","a":55,"x":11.82,"y":-6.0},{"s":"Sap","a":55,"x":11.89,"y":-11.0},{"s":"Sap","a":55,"x":11.96,"y":-16.5},{"s":"Sap","a":55,"x":12.03,"y":-8.5},{"s":"Sap","a":55,"x":12.1,"y":-10.0},
{"s":"SH","a":80,"x":2.31,"y":0.8},{"s":"SH","a":80,"x":2.5,"y":-0.6},{"s":"SH","a":80,"x":2.7,"y":-2.3},{"s":"SH","a":80,"x":2.9,"y":-3.8},{"s":"SH","a":80,"x":3.05,"y":-4.5},{"s":"SH","a":80,"x":3.2,"y":-4.0},{"s":"SH","a":80,"x":3.4,"y":-2.2},{"s":"SH","a":80,"x":3.6,"y":0.5},{"s":"SH","a":80,"x":3.8,"y":3.5},{"s":"SH","a":80,"x":3.95,"y":5.8},{"s":"SH","a":80,"x":4.06,"y":6.6},{"s":"SH","a":80,"x":4.2,"y":5.9},{"s":"SH","a":80,"x":4.35,"y":4.0},{"s":"SH","a":80,"x":4.5,"y":1.5},{"s":"SH","a":80,"x":4.65,"y":-1.5},{"s":"SH","a":80,"x":4.8,"y":-4.2},{"s":"SH","a":80,"x":4.9,"y":-3.3},{"s":"SH","a":80,"x":5.0,"y":-1.5},{"s":"SH","a":80,"x":5.12,"y":-0.6},{"s":"SH","a":80,"x":5.25,"y":-1.8},{"s":"SH","a":80,"x":5.4,"y":-4.5},{"s":"SH","a":80,"x":5.55,"y":-6.0},{"s":"SH","a":80,"x":5.7,"y":-3.0},{"s":"SH","a":80,"x":5.85,"y":1.0},{"s":"SH","a":80,"x":6.0,"y":4.5},{"s":"SH","a":80,"x":6.15,"y":7.0},{"s":"SH","a":80,"x":6.27,"y":7.85},{"s":"SH","a":80,"x":6.4,"y":7.0},{"s":"SH","a":80,"x":6.55,"y":4.0},{"s":"SH","a":80,"x":6.7,"y":0.5},{"s":"SH","a":80,"x":6.85,"y":-3.0},{"s":"SH","a":80,"x":6.95,"y":-5.0},{"s":"SH","a":80,"x":7.05,"y":-5.8},{"s":"SH","a":80,"x":7.2,"y":-3.0},{"s":"SH","a":80,"x":7.35,"y":0.2},{"s":"SH","a":80,"x":7.45,"y":0.8},{"s":"SH","a":80,"x":7.55,"y":-1.0},{"s":"SH","a":80,"x":7.65,"y":-2.4},{"s":"SH","a":80,"x":7.8,"y":-0.5},{"s":"SH","a":80,"x":8.0,"y":2.0},{"s":"SH","a":80,"x":8.2,"y":4.2},{"s":"SH","a":80,"x":8.43,"y":5.6},{"s":"SH","a":80,"x":8.6,"y":3.8},{"s":"SH","a":80,"x":8.8,"y":0.0},{"s":"SH","a":80,"x":9.0,"y":-3.5},{"s":"SH","a":80,"x":9.15,"y":-5.0},
{"s":"SH","a":80,"x":9.3,"y":-2.5},{"s":"SH","a":80,"x":9.37,"y":-0.8},{"s":"SH","a":80,"x":9.44,"y":0.6},{"s":"SH","a":80,"x":9.51,"y":1.0},{"s":"SH","a":80,"x":9.58,"y":2.8},{"s":"SH","a":80,"x":9.65,"y":2.2},{"s":"SH","a":80,"x":9.72,"y":3.6},{"s":"SH","a":80,"x":9.79,"y":2.4},{"s":"SH","a":80,"x":9.86,"y":3.0},{"s":"SH","a":80,"x":9.93,"y":1.0},{"s":"SH","a":80,"x":10.0,"y":1.5},{"s":"SH","a":80,"x":10.07,"y":-0.6},{"s":"SH","a":80,"x":10.14,"y":0.5},{"s":"SH","a":80,"x":10.21,"y":-0.3},{"s":"SH","a":80,"x":10.28,"y":1.8},{"s":"SH","a":80,"x":10.35,"y":1.0},{"s":"SH","a":80,"x":10.42,"y":2.6},{"s":"SH","a":80,"x":10.49,"y":1.0},{"s":"SH","a":80,"x":10.56,"y":1.8},{"s":"SH","a":80,"x":10.63,"y":-0.3},{"s":"SH","a":80,"x":10.7,"y":0.2},{"s":"SH","a":80,"x":10.77,"y":-1.6},{"s":"SH","a":80,"x":10.84,"y":-1.0},{"s":"SH","a":80,"x":10.91,"y":-3.0},{"s":"SH","a":80,"x":10.98,"y":-2.6},{"s":"SH","a":80,"x":11.05,"y":-4.2},{"s":"SH","a":80,"x":11.12,"y":-3.4},{"s":"SH","a":80,"x":11.19,"y":-4.8},{"s":"SH","a":80,"x":11.26,"y":-2.8},{"s":"SH","a":80,"x":11.33,"y":-3.0},{"s":"SH","a":80,"x":11.4,"y":-0.8},{"s":"SH","a":80,"x":11.47,"y":-1.2},{"s":"SH","a":80,"x":11.54,"y":1.2},{"s":"SH","a":80,"x":11.61,"y":1.0},{"s":"SH","a":80,"x":11.68,"y":3.2},{"s":"SH","a":80,"x":11.75,"y":2.6},{"s":"SH","a":80,"x":11.82,"y":4.6},{"s":"SH","a":80,"x":11.89,"y":3.4},{"s":"SH","a":80,"x":11.96,"y":4.8},{"s":"SH","a":80,"x":12.03,"y":2.0},{"s":"SH","a":80,"x":12.1,"y":2.4},
{"s":"Sap","a":80,"x":2.31,"y":-9.4},{"s":"Sap","a":80,"x":2.5,"y":-10.5},{"s":"Sap","a":80,"x":2.7,"y":-12.0},{"s":"Sap","a":80,"x":2.9,"y":-13.2},{"s":"Sap","a":80,"x":3.03,"y":-13.5},{"s":"Sap","a":80,"x":3.2,"y":-12.6},{"s":"Sap","a":80,"x":3.35,"y":-11.0},{"s":"Sap","a":80,"x":3.5,"y":-10.0},{"s":"Sap","a":80,"x":3.65,"y":-8.5},{"s":"Sap","a":80,"x":3.8,"y":-6.5},{"s":"Sap","a":80,"x":3.95,"y":-5.0},{"s":"Sap","a":80,"x":4.05,"y":-4.6},{"s":"Sap","a":80,"x":4.15,"y":-5.2},{"s":"Sap","a":80,"x":4.3,"y":-7.0},{"s":"Sap","a":80,"x":4.45,"y":-9.0},{"s":"Sap","a":80,"x":4.58,"y":-11.5},{"s":"Sap","a":80,"x":4.7,"y":-13.2},{"s":"Sap","a":80,"x":4.85,"y":-12.0},{"s":"Sap","a":80,"x":5.0,"y":-9.6},{"s":"Sap","a":80,"x":5.08,"y":-9.3},{"s":"Sap","a":80,"x":5.2,"y":-10.8},{"s":"Sap","a":80,"x":5.35,"y":-14.0},{"s":"Sap","a":80,"x":5.46,"y":-15.7},{"s":"Sap","a":80,"x":5.6,"y":-13.5},{"s":"Sap","a":80,"x":5.75,"y":-10.5},{"s":"Sap","a":80,"x":5.9,"y":-7.5},{"s":"Sap","a":80,"x":6.05,"y":-5.3},{"s":"Sap","a":80,"x":6.15,"y":-4.6},{"s":"Sap","a":80,"x":6.3,"y":-5.5},{"s":"Sap","a":80,"x":6.45,"y":-8.0},{"s":"Sap","a":80,"x":6.6,"y":-11.0},{"s":"Sap","a":80,"x":6.75,"y":-13.0},{"s":"Sap","a":80,"x":6.85,"y":-14.0},{"s":"Sap","a":80,"x":6.95,"y":-13.5},{"s":"Sap","a":80,"x":7.05,"y":-14.2},{"s":"Sap","a":80,"x":7.2,"y":-11.0},{"s":"Sap","a":80,"x":7.35,"y":-8.5},{"s":"Sap","a":80,"x":7.45,"y":-7.8},{"s":"Sap","a":80,"x":7.55,"y":-9.5},{"s":"Sap","a":80,"x":7.7,"y":-12.4},{"s":"Sap","a":80,"x":7.85,"y":-11.5},{"s":"Sap","a":80,"x":8.0,"y":-9.5},{"s":"Sap","a":80,"x":8.1,"y":-8.6},{"s":"Sap","a":80,"x":8.2,"y":-7.2},{"s":"Sap","a":80,"x":8.3,"y":-6.8},{"s":"Sap","a":80,"x":8.42,"y":-6.0},{"s":"Sap","a":80,"x":8.5,"y":-6.6},{"s":"Sap","a":80,"x":8.6,"y":-8.2},{"s":"Sap","a":80,"x":8.7,"y":-9.5},{"s":"Sap","a":80,"x":8.85,"y":-12.0},{"s":"Sap","a":80,"x":9.0,"y":-13.5},{"s":"Sap","a":80,"x":9.1,"y":-13.8},{"s":"Sap","a":80,"x":9.2,"y":-12.0},
{"s":"Sap","a":80,"x":9.3,"y":-11.5},{"s":"Sap","a":80,"x":9.37,"y":-9.0},{"s":"Sap","a":80,"x":9.44,"y":-8.6},{"s":"Sap","a":80,"x":9.51,"y":-7.2},{"s":"Sap","a":80,"x":9.58,"y":-7.6},{"s":"Sap","a":80,"x":9.65,"y":-6.6},{"s":"Sap","a":80,"x":9.72,"y":-8.5},{"s":"Sap","a":80,"x":9.79,"y":-8.8},{"s":"Sap","a":80,"x":9.86,"y":-11.0},{"s":"Sap","a":80,"x":9.93,"y":-10.6},{"s":"Sap","a":80,"x":10.0,"y":-12.6},{"s":"Sap","a":80,"x":10.07,"y":-11.5},{"s":"Sap","a":80,"x":10.14,"y":-13.2},{"s":"Sap","a":80,"x":10.21,"y":-10.0},{"s":"Sap","a":80,"x":10.28,"y":-10.8},{"s":"Sap","a":80,"x":10.35,"y":-8.8},{"s":"Sap","a":80,"x":10.42,"y":-10.2},{"s":"Sap","a":80,"x":10.49,"y":-9.2},{"s":"Sap","a":80,"x":10.56,"y":-11.0},{"s":"Sap","a":80,"x":10.63,"y":-10.0},{"s":"Sap","a":80,"x":10.7,"y":-12.0},{"s":"Sap","a":80,"x":10.77,"y":-11.0},{"s":"Sap","a":80,"x":10.84,"y":-13.0},{"s":"Sap","a":80,"x":10.91,"y":-12.0},{"s":"Sap","a":80,"x":10.98,"y":-14.0},{"s":"Sap","a":80,"x":11.05,"y":-12.8},{"s":"Sap","a":80,"x":11.12,"y":-14.2},{"s":"Sap","a":80,"x":11.19,"y":-12.0},{"s":"Sap","a":80,"x":11.26,"y":-12.8},{"s":"Sap","a":80,"x":11.33,"y":-10.6},{"s":"Sap","a":80,"x":11.4,"y":-11.2},{"s":"Sap","a":80,"x":11.47,"y":-9.2},{"s":"Sap","a":80,"x":11.54,"y":-10.0},{"s":"Sap","a":80,"x":11.61,"y":-8.0},{"s":"Sap","a":80,"x":11.68,"y":-9.0},{"s":"Sap","a":80,"x":11.75,"y":-7.4},{"s":"Sap","a":80,"x":11.82,"y":-9.2},{"s":"Sap","a":80,"x":11.89,"y":-8.4},{"s":"Sap","a":80,"x":11.96,"y":-10.2},{"s":"Sap","a":80,"x":12.03,"y":-9.2},{"s":"Sap","a":80,"x":12.1,"y":-10.5}
],
"ft": [
{"s":"SH","a":10,"x":0.28,"y":0.9},{"s":"SH","a":10,"x":0.38,"y":1.35},{"s":"SH","a":10,"x":0.49,"y":1.62},{"s":"SH","a":10,"x":0.57,"y":1.5},{"s":"SH","a":10,"x":0.65,"y":1.38},{"s":"SH","a":10,"x":0.73,"y":1.65},{"s":"SH","a":10,"x":0.81,"y":1.95},{"s":"SH","a":10,"x":0.89,"y":2.2},{"s":"SH","a":10,"x":0.97,"y":2.45},{"s":"SH","a":10,"x":1.07,"y":2.9},{"s":"SH","a":10,"x":1.18,"y":4.05},{"s":"SH","a":10,"x":1.28,"y":5.38},{"s":"SH","a":10,"x":1.39,"y":6.71},{"s":"SH","a":10,"x":1.5,"y":7.15},{"s":"SH","a":10,"x":1.6,"y":6.8},{"s":"SH","a":10,"x":1.71,"y":6.14},{"s":"SH","a":10,"x":1.81,"y":4.9},{"s":"SH","a":10,"x":1.92,"y":3.48},{"s":"SH","a":10,"x":2.0,"y":2.05},{"s":"SH","a":10,"x":2.08,"y":0.33},{"s":"SH","a":10,"x":2.16,"y":0.55},{"s":"SH","a":10,"x":2.23,"y":0.81},{"s":"SH","a":10,"x":2.3,"y":0.7},{"s":"SH","a":10,"x":2.4,"y":0.8},{"s":"SH","a":10,"x":2.5,"y":1.25},{"s":"SH","a":10,"x":2.6,"y":1.8},{"s":"SH","a":10,"x":2.7,"y":2.15},{"s":"SH","a":10,"x":2.81,"y":2.29},{"s":"SH","a":10,"x":2.92,"y":2.1},{"s":"SH","a":10,"x":3.03,"y":1.5},{"s":"SH","a":10,"x":3.14,"y":1.05},{"s":"SH","a":10,"x":3.24,"y":0.95},{"s":"SH","a":10,"x":3.35,"y":0.92},{"s":"SH","a":10,"x":3.45,"y":0.8},{"s":"SH","a":10,"x":3.6,"y":0.35},{"s":"SH","a":10,"x":3.71,"y":0.1},{"s":"SH","a":10,"x":3.85,"y":0.5},{"s":"SH","a":10,"x":4.0,"y":0.88},{"s":"SH","a":10,"x":4.08,"y":0.9},{"s":"SH","a":10,"x":4.2,"y":0.85},{"s":"SH","a":10,"x":4.4,"y":0.78},{"s":"SH","a":10,"x":4.6,"y":0.7},{"s":"SH","a":10,"x":4.71,"y":0.67},{"s":"SH","a":10,"x":4.85,"y":0.45},{"s":"SH","a":10,"x":5.03,"y":0.14},{"s":"SH","a":10,"x":5.2,"y":0.1},{"s":"SH","a":10,"x":5.35,"y":0.1},{"s":"SH","a":10,"x":5.5,"y":0.15},{"s":"SH","a":10,"x":5.7,"y":0.19},{"s":"SH","a":10,"x":5.9,"y":0.17},{"s":"SH","a":10,"x":6.1,"y":0.22},{"s":"SH","a":10,"x":6.3,"y":0.3},{"s":"SH","a":10,"x":6.5,"y":0.38},
{"s":"Sap","a":10,"x":0.28,"y":0.7},{"s":"Sap","a":10,"x":0.4,"y":1.05},{"s":"Sap","a":10,"x":0.55,"y":1.28},{"s":"Sap","a":10,"x":0.65,"y":1.24},{"s":"Sap","a":10,"x":0.81,"y":1.53},{"s":"Sap","a":10,"x":0.97,"y":1.98},{"s":"Sap","a":10,"x":1.13,"y":2.55},{"s":"Sap","a":10,"x":1.28,"y":3.19},{"s":"Sap","a":10,"x":1.39,"y":3.83},{"s":"Sap","a":10,"x":1.47,"y":4.6},{"s":"Sap","a":10,"x":1.55,"y":4.94},{"s":"Sap","a":10,"x":1.63,"y":4.85},{"s":"Sap","a":10,"x":1.71,"y":4.47},{"s":"Sap","a":10,"x":1.81,"y":3.32},{"s":"Sap","a":10,"x":1.92,"y":2.1},{"s":"Sap","a":10,"x":2.0,"y":1.21},{"s":"Sap","a":10,"x":2.08,"y":0.64},{"s":"Sap","a":10,"x":2.16,"y":0.9},{"s":"Sap","a":10,"x":2.25,"y":1.5},{"s":"Sap","a":10,"x":2.32,"y":1.9},{"s":"Sap","a":10,"x":2.39,"y":2.07},{"s":"Sap","a":10,"x":2.48,"y":1.9},{"s":"Sap","a":10,"x":2.58,"y":1.4},{"s":"Sap","a":10,"x":2.7,"y":0.9},{"s":"Sap","a":10,"x":2.85,"y":0.45},{"s":"Sap","a":10,"x":2.95,"y":0.15},{"s":"Sap","a":10,"x":3.03,"y":0.03},{"s":"Sap","a":10,"x":3.12,"y":0.35},{"s":"Sap","a":10,"x":3.22,"y":0.7},{"s":"Sap","a":10,"x":3.34,"y":0.83},{"s":"Sap","a":10,"x":3.5,"y":0.75},{"s":"Sap","a":10,"x":3.66,"y":0.64},{"s":"Sap","a":10,"x":3.85,"y":0.6},{"s":"Sap","a":10,"x":4.1,"y":0.75},{"s":"Sap","a":10,"x":4.4,"y":0.86},{"s":"Sap","a":10,"x":4.6,"y":0.7},{"s":"Sap","a":10,"x":4.8,"y":0.45},{"s":"Sap","a":10,"x":4.98,"y":0.1},{"s":"Sap","a":10,"x":5.15,"y":0.4},{"s":"Sap","a":10,"x":5.35,"y":0.61},{"s":"Sap","a":10,"x":5.55,"y":0.5},{"s":"Sap","a":10,"x":5.75,"y":0.42},{"s":"Sap","a":10,"x":5.95,"y":0.38},{"s":"Sap","a":10,"x":6.15,"y":0.36},{"s":"Sap","a":10,"x":6.35,"y":0.3},{"s":"Sap","a":10,"x":6.5,"y":0.19},
{"s":"SH","a":35,"x":0.28,"y":0.9},{"s":"SH","a":35,"x":0.38,"y":1.35},{"s":"SH","a":35,"x":0.49,"y":1.62},{"s":"SH","a":35,"x":0.57,"y":1.5},{"s":"SH","a":35,"x":0.65,"y":1.38},{"s":"SH","a":35,"x":0.73,"y":1.65},{"s":"SH","a":35,"x":0.81,"y":1.95},{"s":"SH","a":35,"x":0.89,"y":2.2},{"s":"SH","a":35,"x":0.97,"y":2.43},{"s":"SH","a":35,"x":1.07,"y":2.6},{"s":"SH","a":35,"x":1.18,"y":4.05},{"s":"SH","a":35,"x":1.28,"y":5.38},{"s":"SH","a":35,"x":1.39,"y":6.71},{"s":"SH","a":35,"x":1.5,"y":7.1},{"s":"SH","a":35,"x":1.6,"y":6.85},{"s":"SH","a":35,"x":1.71,"y":6.14},{"s":"SH","a":35,"x":1.81,"y":4.9},{"s":"SH","a":35,"x":1.92,"y":3.48},{"s":"SH","a":35,"x":2.0,"y":2.05},{"s":"SH","a":35,"x":2.08,"y":0.5},{"s":"SH","a":35,"x":2.13,"y":0.14},{"s":"SH","a":35,"x":2.2,"y":0.45},{"s":"SH","a":35,"x":2.3,"y":0.85},{"s":"SH","a":35,"x":2.39,"y":1.05},{"s":"SH","a":35,"x":2.5,"y":0.9},{"s":"SH","a":35,"x":2.6,"y":0.72},{"s":"SH","a":35,"x":2.71,"y":0.62},{"s":"SH","a":35,"x":2.85,"y":0.57},{"s":"SH","a":35,"x":3.0,"y":0.55},{"s":"SH","a":35,"x":3.2,"y":0.62},{"s":"SH","a":35,"x":3.4,"y":0.67},{"s":"SH","a":35,"x":3.6,"y":0.58},{"s":"SH","a":35,"x":3.85,"y":0.48},{"s":"SH","a":35,"x":4.1,"y":0.6},{"s":"SH","a":35,"x":4.35,"y":0.78},{"s":"SH","a":35,"x":4.6,"y":0.86},{"s":"SH","a":35,"x":4.8,"y":0.65},{"s":"SH","a":35,"x":4.98,"y":0.43},{"s":"SH","a":35,"x":5.15,"y":0.55},{"s":"SH","a":35,"x":5.35,"y":0.71},{"s":"SH","a":35,"x":5.55,"y":0.6},{"s":"SH","a":35,"x":5.75,"y":0.57},{"s":"SH","a":35,"x":5.95,"y":0.62},{"s":"SH","a":35,"x":6.15,"y":0.6},{"s":"SH","a":35,"x":6.3,"y":0.57},{"s":"SH","a":35,"x":6.5,"y":0.48},
{"s":"Sap","a":35,"x":0.28,"y":0.7},{"s":"Sap","a":35,"x":0.4,"y":1.05},{"s":"Sap","a":35,"x":0.55,"y":1.28},{"s":"Sap","a":35,"x":0.65,"y":1.24},{"s":"Sap","a":35,"x":0.81,"y":1.53},{"s":"Sap","a":35,"x":0.97,"y":1.98},{"s":"Sap","a":35,"x":1.13,"y":2.55},{"s":"Sap","a":35,"x":1.28,"y":3.19},{"s":"Sap","a":35,"x":1.39,"y":3.83},{"s":"Sap","a":35,"x":1.47,"y":4.45},{"s":"Sap","a":35,"x":1.55,"y":4.69},{"s":"Sap","a":35,"x":1.63,"y":4.65},{"s":"Sap","a":35,"x":1.71,"y":4.35},{"s":"Sap","a":35,"x":1.81,"y":3.32},{"s":"Sap","a":35,"x":1.92,"y":2.1},{"s":"Sap","a":35,"x":2.0,"y":1.21},{"s":"Sap","a":35,"x":2.08,"y":0.38},{"s":"Sap","a":35,"x":2.13,"y":0.3},{"s":"Sap","a":35,"x":2.2,"y":0.8},{"s":"Sap","a":35,"x":2.29,"y":1.28},{"s":"Sap","a":35,"x":2.4,"y":1.3},{"s":"Sap","a":35,"x":2.5,"y":1.32},{"s":"Sap","a":35,"x":2.6,"y":1.48},{"s":"Sap","a":35,"x":2.71,"y":1.6},{"s":"Sap","a":35,"x":2.8,"y":1.4},{"s":"Sap","a":35,"x":2.9,"y":0.9},{"s":"Sap","a":35,"x":3.0,"y":0.5},{"s":"Sap","a":35,"x":3.08,"y":0.32},{"s":"Sap","a":35,"x":3.2,"y":0.6},{"s":"Sap","a":35,"x":3.39,"y":0.86},{"s":"Sap","a":35,"x":3.55,"y":0.75},{"s":"Sap","a":35,"x":3.66,"y":0.7},{"s":"Sap","a":35,"x":3.9,"y":0.77},{"s":"Sap","a":35,"x":4.2,"y":0.77},{"s":"Sap","a":35,"x":4.5,"y":0.65},{"s":"Sap","a":35,"x":4.75,"y":0.45},{"s":"Sap","a":35,"x":4.98,"y":0.06},{"s":"Sap","a":35,"x":5.15,"y":0.35},{"s":"Sap","a":35,"x":5.35,"y":0.51},{"s":"Sap","a":35,"x":5.6,"y":0.5},{"s":"Sap","a":35,"x":5.85,"y":0.52},{"s":"Sap","a":35,"x":6.08,"y":0.57},{"s":"Sap","a":35,"x":6.3,"y":0.5},{"s":"Sap","a":35,"x":6.5,"y":0.35},
{"s":"SH","a":55,"x":0.28,"y":0.9},{"s":"SH","a":55,"x":0.38,"y":1.35},{"s":"SH","a":55,"x":0.49,"y":1.62},{"s":"SH","a":55,"x":0.57,"y":1.5},{"s":"SH","a":55,"x":0.65,"y":1.38},{"s":"SH","a":55,"x":0.73,"y":1.65},{"s":"SH","a":55,"x":0.81,"y":1.95},{"s":"SH","a":55,"x":0.89,"y":2.2},{"s":"SH","a":55,"x":0.97,"y":2.4},{"s":"SH","a":55,"x":1.07,"y":2.6},{"s":"SH","a":55,"x":1.18,"y":4.05},{"s":"SH","a":55,"x":1.28,"y":5.38},{"s":"SH","a":55,"x":1.39,"y":6.75},{"s":"SH","a":55,"x":1.5,"y":7.33},{"s":"SH","a":55,"x":1.6,"y":6.95},{"s":"SH","a":55,"x":1.71,"y":6.14},{"s":"SH","a":55,"x":1.81,"y":4.9},{"s":"SH","a":55,"x":1.92,"y":3.48},{"s":"SH","a":55,"x":2.0,"y":2.05},{"s":"SH","a":55,"x":2.08,"y":0.9},{"s":"SH","a":55,"x":2.18,"y":0.3},{"s":"SH","a":55,"x":2.29,"y":0.1},{"s":"SH","a":55,"x":2.4,"y":0.8},{"s":"SH","a":55,"x":2.5,"y":1.9},{"s":"SH","a":55,"x":2.6,"y":3.0},{"s":"SH","a":55,"x":2.7,"y":3.7},{"s":"SH","a":55,"x":2.81,"y":3.86},{"s":"SH","a":55,"x":2.92,"y":3.5},{"s":"SH","a":55,"x":3.03,"y":2.4},{"s":"SH","a":55,"x":3.14,"y":1.2},{"s":"SH","a":55,"x":3.29,"y":0.29},{"s":"SH","a":55,"x":3.45,"y":0.67},{"s":"SH","a":55,"x":3.6,"y":0.35},{"s":"SH","a":55,"x":3.71,"y":0.1},{"s":"SH","a":55,"x":3.85,"y":0.45},{"s":"SH","a":55,"x":4.0,"y":0.85},{"s":"SH","a":55,"x":4.13,"y":0.95},{"s":"SH","a":55,"x":4.3,"y":0.85},{"s":"SH","a":55,"x":4.5,"y":0.71},{"s":"SH","a":55,"x":4.71,"y":0.55},{"s":"SH","a":55,"x":4.85,"y":0.35},{"s":"SH","a":55,"x":5.03,"y":0.24},{"s":"SH","a":55,"x":5.2,"y":0.28},{"s":"SH","a":55,"x":5.35,"y":0.3},{"s":"SH","a":55,"x":5.55,"y":0.22},{"s":"SH","a":55,"x":5.75,"y":0.19},{"s":"SH","a":55,"x":5.95,"y":0.15},{"s":"SH","a":55,"x":6.15,"y":0.1},{"s":"SH","a":55,"x":6.35,"y":0.07},{"s":"SH","a":55,"x":6.5,"y":0.05},
{"s":"Sap","a":55,"x":0.28,"y":0.7},{"s":"Sap","a":55,"x":0.4,"y":1.05},{"s":"Sap","a":55,"x":0.55,"y":1.28},{"s":"Sap","a":55,"x":0.65,"y":1.24},{"s":"Sap","a":55,"x":0.81,"y":1.53},{"s":"Sap","a":55,"x":0.97,"y":1.98},{"s":"Sap","a":55,"x":1.13,"y":2.55},{"s":"Sap","a":55,"x":1.28,"y":3.19},{"s":"Sap","a":55,"x":1.39,"y":3.83},{"s":"Sap","a":55,"x":1.47,"y":4.25},{"s":"Sap","a":55,"x":1.55,"y":4.43},{"s":"Sap","a":55,"x":1.63,"y":4.4},{"s":"Sap","a":55,"x":1.71,"y":4.2},{"s":"Sap","a":55,"x":1.81,"y":3.32},{"s":"Sap","a":55,"x":1.92,"y":2.1},{"s":"Sap","a":55,"x":2.0,"y":1.21},{"s":"Sap","a":55,"x":2.08,"y":0.32},{"s":"Sap","a":55,"x":2.15,"y":0.25},{"s":"Sap","a":55,"x":2.23,"y":0.22},{"s":"Sap","a":55,"x":2.32,"y":0.6},{"s":"Sap","a":55,"x":2.45,"y":1.5},{"s":"Sap","a":55,"x":2.6,"y":2.5},{"s":"Sap","a":55,"x":2.76,"y":2.84},{"s":"Sap","a":55,"x":2.9,"y":2.3},{"s":"Sap","a":55,"x":3.0,"y":1.2},{"s":"Sap","a":55,"x":3.1,"y":0.45},{"s":"Sap","a":55,"x":3.18,"y":0.19},{"s":"Sap","a":55,"x":3.3,"y":0.6},{"s":"Sap","a":55,"x":3.39,"y":0.77},{"s":"Sap","a":55,"x":3.66,"y":0.89},{"s":"Sap","a":55,"x":3.85,"y":0.95},{"s":"Sap","a":55,"x":4.08,"y":1.05},{"s":"Sap","a":55,"x":4.3,"y":0.85},{"s":"Sap","a":55,"x":4.5,"y":0.64},{"s":"Sap","a":55,"x":4.75,"y":0.4},{"s":"Sap","a":55,"x":4.92,"y":0.32},{"s":"Sap","a":55,"x":5.1,"y":0.45},{"s":"Sap","a":55,"x":5.35,"y":0.7},{"s":"Sap","a":55,"x":5.55,"y":0.6},{"s":"Sap","a":55,"x":5.8,"y":0.5},{"s":"Sap","a":55,"x":6.08,"y":0.41},{"s":"Sap","a":55,"x":6.3,"y":0.25},{"s":"Sap","a":55,"x":6.5,"y":0.06},
{"s":"SH","a":80,"x":0.28,"y":0.9},{"s":"SH","a":80,"x":0.38,"y":1.35},{"s":"SH","a":80,"x":0.49,"y":1.62},{"s":"SH","a":80,"x":0.57,"y":1.5},{"s":"SH","a":80,"x":0.65,"y":1.38},{"s":"SH","a":80,"x":0.73,"y":1.65},{"s":"SH","a":80,"x":0.81,"y":1.95},{"s":"SH","a":80,"x":0.89,"y":2.2},{"s":"SH","a":80,"x":0.97,"y":2.43},{"s":"SH","a":80,"x":1.07,"y":2.6},{"s":"SH","a":80,"x":1.18,"y":4.05},{"s":"SH","a":80,"x":1.28,"y":5.38},{"s":"SH","a":80,"x":1.39,"y":6.71},{"s":"SH","a":80,"x":1.5,"y":7.2},{"s":"SH","a":80,"x":1.6,"y":6.9},{"s":"SH","a":80,"x":1.71,"y":6.14},{"s":"SH","a":80,"x":1.81,"y":4.9},{"s":"SH","a":80,"x":1.92,"y":3.48},{"s":"SH","a":80,"x":2.0,"y":2.05},{"s":"SH","a":80,"x":2.08,"y":0.7},{"s":"SH","a":80,"x":2.18,"y":0.19},{"s":"SH","a":80,"x":2.3,"y":0.6},{"s":"SH","a":80,"x":2.4,"y":1.5},{"s":"SH","a":80,"x":2.5,"y":2.8},{"s":"SH","a":80,"x":2.6,"y":4.3},{"s":"SH","a":80,"x":2.7,"y":5.5},{"s":"SH","a":80,"x":2.79,"y":5.84},{"s":"SH","a":80,"x":2.9,"y":5.5},{"s":"SH","a":80,"x":3.0,"y":4.3},{"s":"SH","a":80,"x":3.1,"y":2.6},{"s":"SH","a":80,"x":3.2,"y":1.0},{"s":"SH","a":80,"x":3.29,"y":0.1},{"s":"SH","a":80,"x":3.45,"y":0.62},{"s":"SH","a":80,"x":3.6,"y":0.3},{"s":"SH","a":80,"x":3.71,"y":0.1},{"s":"SH","a":80,"x":3.85,"y":0.7},{"s":"SH","a":80,"x":4.0,"y":1.3},{"s":"SH","a":80,"x":4.08,"y":1.43},{"s":"SH","a":80,"x":4.2,"y":1.2},{"s":"SH","a":80,"x":4.4,"y":0.75},{"s":"SH","a":80,"x":4.6,"y":0.55},{"s":"SH","a":80,"x":4.8,"y":0.3},{"s":"SH","a":80,"x":5.03,"y":0.05},{"s":"SH","a":80,"x":5.2,"y":0.18},{"s":"SH","a":80,"x":5.35,"y":0.24},{"s":"SH","a":80,"x":5.55,"y":0.15},{"s":"SH","a":80,"x":5.75,"y":0.2},{"s":"SH","a":80,"x":5.95,"y":0.25},{"s":"SH","a":80,"x":6.15,"y":0.3},{"s":"SH","a":80,"x":6.35,"y":0.33},{"s":"SH","a":80,"x":6.5,"y":0.33},
{"s":"Sap","a":80,"x":0.28,"y":0.7},{"s":"Sap","a":80,"x":0.4,"y":1.05},{"s":"Sap","a":80,"x":0.55,"y":1.28},{"s":"Sap","a":80,"x":0.65,"y":1.24},{"s":"Sap","a":80,"x":0.81,"y":1.53},{"s":"Sap","a":80,"x":0.97,"y":1.98},{"s":"Sap","a":80,"x":1.13,"y":2.55},{"s":"Sap","a":80,"x":1.28,"y":3.19},{"s":"Sap","a":80,"x":1.39,"y":3.7},{"s":"Sap","a":80,"x":1.47,"y":3.95},{"s":"Sap","a":80,"x":1.55,"y":4.08},{"s":"Sap","a":80,"x":1.63,"y":4.05},{"s":"Sap","a":80,"x":1.71,"y":3.96},{"s":"Sap","a":80,"x":1.81,"y":3.4},{"s":"Sap","a":80,"x":1.92,"y":2.1},{"s":"Sap","a":80,"x":2.0,"y":1.21},{"s":"Sap","a":80,"x":2.08,"y":0.51},{"s":"Sap","a":80,"x":2.15,"y":0.35},{"s":"Sap","a":80,"x":2.25,"y":0.32},{"s":"Sap","a":80,"x":2.35,"y":0.8},{"s":"Sap","a":80,"x":2.5,"y":1.72},{"s":"Sap","a":80,"x":2.6,"y":3.0},{"s":"Sap","a":80,"x":2.7,"y":4.4},{"s":"Sap","a":80,"x":2.78,"y":4.91},{"s":"Sap","a":80,"x":2.88,"y":4.4},{"s":"Sap","a":80,"x":2.98,"y":3.32},{"s":"Sap","a":80,"x":3.1,"y":1.4},{"s":"Sap","a":80,"x":3.18,"y":0.5},{"s":"Sap","a":80,"x":3.24,"y":0.19},{"s":"Sap","a":80,"x":3.35,"y":0.6},{"s":"Sap","a":80,"x":3.55,"y":0.92},{"s":"Sap","a":80,"x":3.7,"y":0.75},{"s":"Sap","a":80,"x":3.87,"y":0.64},{"s":"Sap","a":80,"x":4.15,"y":0.77},{"s":"Sap","a":80,"x":4.5,"y":0.7},{"s":"Sap","a":80,"x":4.75,"y":0.4},{"s":"Sap","a":80,"x":5.03,"y":0.1},{"s":"Sap","a":80,"x":5.2,"y":0.3},{"s":"Sap","a":80,"x":5.35,"y":0.45},{"s":"Sap","a":80,"x":5.6,"y":0.4},{"s":"Sap","a":80,"x":5.85,"y":0.35},{"s":"Sap","a":80,"x":6.0,"y":0.3},{"s":"Sap","a":80,"x":6.3,"y":0.2},{"s":"Sap","a":80,"x":6.5,"y":0.1}
]
},
"hconcat": [
{
"width": 196, "height": 568,
"layer": [
{"data": {"name": "xanes"}, "mark": {"type": "line", "strokeWidth": 1.4, "interpolate": "monotone", "clip": true},
 "encoding": {
  "x": {"field": "x", "type": "quantitative", "scale": {"domain": [7101.1, 7255.1], "nice": false, "zero": false},
        "axis": {"values": [7120, 7146.67, 7173.33, 7200, 7226.67], "format": "d", "labelExpr": "datum.value == 7120 || datum.value == 7200 ? datum.label : ''", "labelPadding": 23, "title": "Energy [eV]", "titleX": 98, "titleY": 52, "titleBaseline": "middle", "titleAlign": "center"}},
  "y": {"field": "y", "type": "quantitative", "scale": {"domain": [0, 5.68], "nice": false, "zero": false},
        "axis": {"ticks": false, "labels": false, "title": "Normalized intensity", "titleX": -24, "titleY": 268, "titleBaseline": "middle", "titleAlign": "center", "titleAngle": -90}},
  "color": {"field": "a", "type": "nominal", "scale": {"domain": [10, 35, 55, 80], "range": ["#1f1fe6", "#e3141b", "#1c8a24", "#333333"]}, "legend": null},
  "detail": {"field": "s"}
 }},
{"data": {"values": [{"x": 7150, "y": 1}]}, "mark": {"type": "point", "opacity": 0},
 "encoding": {
  "x": {"field": "x", "type": "quantitative", "axis": {"orient": "top", "values": [7120, 7146.67, 7173.33, 7200, 7226.67], "labels": false, "title": null}},
  "y": {"field": "y", "type": "quantitative", "axis": null}
 }},
{"data": {"values": [{"x": 7216.0, "y": 4.45, "t": "SHCa-1"}, {"x": 7213.9, "y": 3.37, "t": "SapCa-2"}]},
 "mark": {"type": "text", "font": "Liberation Sans", "fontWeight": "bold", "fontSize": 22, "align": "center", "baseline": "middle", "color": "black"},
 "encoding": {"x": {"field": "x", "type": "quantitative", "axis": null}, "y": {"field": "y", "type": "quantitative", "axis": null}, "text": {"field": "t"}}},
{"data": {"values": [{"a": 10, "t": "α = 10°", "x": 7244.6, "y": 1.41}, {"a": 35, "t": "α = 35°", "x": 7244.6, "y": 1.11}, {"a": 55, "t": "α = 55°", "x": 7244.6, "y": 0.81}, {"a": 80, "t": "α = 80°", "x": 7244.6, "y": 0.51}]},
 "mark": {"type": "text", "font": "Liberation Sans", "fontWeight": "bold", "fontSize": 21, "align": "right", "baseline": "middle"},
 "encoding": {"x": {"field": "x", "type": "quantitative", "axis": null}, "y": {"field": "y", "type": "quantitative", "axis": null}, "text": {"field": "t"},
  "color": {"field": "a", "type": "nominal", "scale": {"domain": [10, 35, 55, 80], "range": ["#1f1fe6", "#e3141b", "#1c8a24", "#555555"]}, "legend": null}}}
],
"resolve": {"axis": {"x": "independent", "y": "independent"}}
},
{"width": 17, "height": 10, "view": {"stroke": null}, "data": {"values": [{"x": 0}]}, "mark": {"type": "point", "opacity": 0}, "encoding": {}},
{
"width": 363, "height": 576,
"layer": [
{"data": {"name": "exafs"}, "mark": {"type": "line", "strokeWidth": 1.3, "clip": true},
 "encoding": {
  "x": {"field": "x", "type": "quantitative", "scale": {"domain": [2.32, 12.14], "nice": false, "zero": false},
        "axis": {"values": [4, 6, 8, 10, 12], "labelPadding": 15, "title": "k [Å⁻¹]", "titleX": 181.5, "titleY": 61, "titleBaseline": "middle", "titleAlign": "center"}},
  "y": {"field": "y", "type": "quantitative", "scale": {"domain": [-16.52, 8.26], "nice": false, "zero": false},
        "axis": {"values": [-15, -10, -5, 0, 5], "title": "k³×χ(k)", "titleX": -51, "titleY": 272, "titleBaseline": "middle", "titleAlign": "center", "titleAngle": -90}},
  "color": {"field": "a", "type": "nominal", "scale": {"domain": [10, 35, 55, 80], "range": ["#1f1fe6", "#e3141b", "#1c8a24", "#222222"]}, "legend": null},
  "detail": {"field": "s"}
 }},
{"data": {"values": [{"x": 5, "y": 0}]}, "mark": {"type": "point", "opacity": 0},
 "encoding": {
  "x": {"field": "x", "type": "quantitative", "axis": {"orient": "top", "values": [4, 6, 8, 10, 12], "labels": false, "title": null}},
  "y": {"field": "y", "type": "quantitative", "axis": {"orient": "right", "values": [-15, -10, -5, 0, 5], "labels": false, "title": null}}
 }},
{"data": {"values": [{"x": 9.86, "y": 6.06, "t": "SHCa-1"}, {"x": 9.34, "y": -15.27, "t": "SapCa-2"}]},
 "mark": {"type": "text", "font": "Liberation Sans", "fontWeight": "bold", "fontSize": 22, "align": "center", "baseline": "middle", "color": "black"},
 "encoding": {"x": {"field": "x", "type": "quantitative", "axis": null}, "y": {"field": "y", "type": "quantitative", "axis": null}, "text": {"field": "t"}}}
],
"resolve": {"axis": {"x": "independent", "y": "independent"}}
},
{"width": 1, "height": 10, "view": {"stroke": null}, "data": {"values": [{"x": 0}]}, "mark": {"type": "point", "opacity": 0}, "encoding": {}},
{
"bounds": "flush",
"spacing": 0,
"vconcat": [
{
"width": 197, "height": 289,
"layer": [
{"data": {"name": "ft"}, "transform": [{"filter": "datum.s == 'SH'"}], "mark": {"type": "line", "strokeWidth": 1.4, "interpolate": "monotone", "clip": true},
 "encoding": {
  "x": {"field": "x", "type": "quantitative", "scale": {"domain": [0.28, 6.52], "nice": false, "zero": false},
        "axis": {"values": [1, 2, 3, 4, 5, 6], "labels": false, "title": null}},
  "y": {"field": "y", "type": "quantitative", "scale": {"domain": [-0.44, 7.82], "nice": false, "zero": false},
        "axis": {"values": [0, 3, 6], "title": "|χ(R)|", "titleX": -43, "titleY": 282, "titleBaseline": "middle", "titleAlign": "center", "titleAngle": -90}},
  "color": {"field": "a", "type": "nominal", "scale": {"domain": [10, 35, 55, 80], "range": ["#1f1fe6", "#e3141b", "#1c8a24", "#444444"]}, "legend": null}
 }},
{"data": {"values": [{"x": 3, "y": 1}]}, "mark": {"type": "point", "opacity": 0},
 "encoding": {
  "x": {"field": "x", "type": "quantitative", "axis": {"orient": "top", "values": [1, 2, 3, 4, 5, 6], "labels": false, "title": null}},
  "y": {"field": "y", "type": "quantitative", "axis": null}
 }},
{"data": {"values": [{"x": 4.86, "y": 6.63, "t": "SHCa-1"}]},
 "mark": {"type": "text", "font": "Liberation Sans", "fontWeight": "bold", "fontSize": 22, "align": "center", "baseline": "middle", "color": "black"},
 "encoding": {"x": {"field": "x", "type": "quantitative", "axis": null}, "y": {"field": "y", "type": "quantitative", "axis": null}, "text": {"field": "t"}}}
],
"resolve": {"axis": {"x": "independent", "y": "independent"}}
},
{
"width": 197, "height": 285,
"layer": [
{"data": {"name": "ft"}, "transform": [{"filter": "datum.s == 'Sap'"}], "mark": {"type": "line", "strokeWidth": 1.4, "interpolate": "monotone", "clip": true},
 "encoding": {
  "x": {"field": "x", "type": "quantitative", "scale": {"domain": [0.28, 6.52], "nice": false, "zero": false},
        "axis": {"values": [1, 2, 3, 4, 5, 6], "labelPadding": 19, "title": "R + ΔR [Å]", "titleX": 98.5, "titleY": 63, "titleBaseline": "middle", "titleAlign": "center"}},
  "y": {"field": "y", "type": "quantitative", "scale": {"domain": [-0.17, 5.29], "nice": false, "zero": false},
        "axis": {"values": [0, 2, 4], "title": null}},
  "color": {"field": "a", "type": "nominal", "scale": {"domain": [10, 35, 55, 80], "range": ["#1f1fe6", "#e3141b", "#1c8a24", "#444444"]}, "legend": null}
 }},
{"data": {"values": [{"x": 3, "y": 1}]}, "mark": {"type": "point", "opacity": 0},
 "encoding": {
  "x": {"field": "x", "type": "quantitative", "axis": {"orient": "top", "values": [1, 2, 3, 4, 5, 6], "labels": false, "title": null}},
  "y": {"field": "y", "type": "quantitative", "axis": null}
 }},
{"data": {"values": [{"x": 4.73, "y": 4.66, "t": "SapCa-2"}]},
 "mark": {"type": "text", "font": "Liberation Sans", "fontWeight": "bold", "fontSize": 22, "align": "center", "baseline": "middle", "color": "black"},
 "encoding": {"x": {"field": "x", "type": "quantitative", "axis": null}, "y": {"field": "y", "type": "quantitative", "axis": null}, "text": {"field": "t"}}}
],
"resolve": {"axis": {"x": "independent", "y": "independent"}}
}
]
}
]
}
